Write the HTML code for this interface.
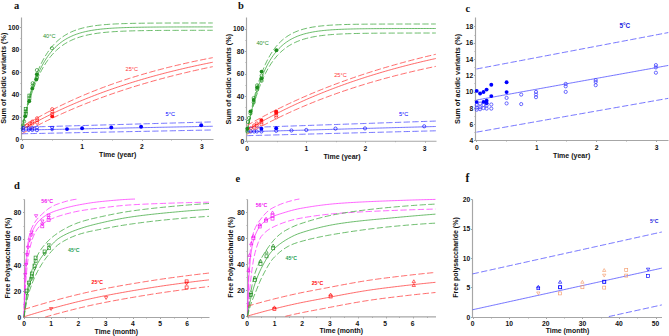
<!DOCTYPE html>
<html><head><meta charset="utf-8"><style>
html,body{margin:0;padding:0;background:#fff;}
svg{display:block;}
text{font-family:"Liberation Sans",sans-serif;}
.tk{font-size:7px;font-weight:bold;fill:#111;}
.lb{font-weight:bold;fill:#111;}
.pl{font-family:"Liberation Serif",serif;font-size:10.5px;font-weight:bold;fill:#111;}
</style></head><body>
<svg width="669" height="336" viewBox="0 0 669 336">
<rect width="669" height="336" fill="#fff"/>
<text x="13.9" y="9" class="pl">a</text>
<path d="M21.5 17.5V139.5H213.5" stroke="#a6a6a6" stroke-width="1.15" fill="none"/>
<path d="M20 139.5h1.5M20 117.5h1.5M20 94.5h1.5M20 72.5h1.5M20 49.5h1.5M20 27.5h1.5M20.5 128.5h1M20.5 106.5h1M20.5 83.5h1M20.5 61.5h1M20.5 38.5h1M22.5 139.5v1.5M82.5 139.5v1.5M142.5 139.5v1.5M201.5 139.5v1.5M52.5 139.5v1M112.5 139.5v1M171.5 139.5v1" stroke="#a6a6a6" stroke-width="1" fill="none"/>
<text transform="translate(19.2,142.15) scale(0.96,1.1)" class="tk" text-anchor="end">0</text>
<text transform="translate(19.2,119.65) scale(0.96,1.1)" class="tk" text-anchor="end">20</text>
<text transform="translate(19.2,97.15) scale(0.96,1.1)" class="tk" text-anchor="end">40</text>
<text transform="translate(19.2,74.65) scale(0.96,1.1)" class="tk" text-anchor="end">60</text>
<text transform="translate(19.2,52.15) scale(0.96,1.1)" class="tk" text-anchor="end">80</text>
<text transform="translate(19.2,29.65) scale(0.96,1.1)" class="tk" text-anchor="end">100</text>
<text transform="translate(22.2,149.15) scale(0.96,1.1)" class="tk" text-anchor="middle">0</text>
<text transform="translate(82.05,149.15) scale(0.96,1.1)" class="tk" text-anchor="middle">1</text>
<text transform="translate(141.9,149.15) scale(0.96,1.1)" class="tk" text-anchor="middle">2</text>
<text transform="translate(201.75,149.15) scale(0.96,1.1)" class="tk" text-anchor="middle">3</text>
<text transform="translate(6.4,78.2) rotate(-90) scale(1,0.92)" class="lb" style="font-size:7.35px" text-anchor="middle">Sum of acidic variants (%)</text>
<text x="99" y="157" class="lb" style="font-size:7.0px">Time (year)</text>
<path d="M21.80 130.40 21.92 129.80 22.16 128.61 22.52 126.86 23.30 123.16 24.79 116.43 24.83 116.27 26.35 109.94 27.86 104.06 29.38 98.60 30.89 93.52 32.41 88.81 33.92 84.42 35.44 80.35 36.95 76.57 38.47 73.05 39.98 69.79 41.50 66.75 43.01 63.93 44.53 61.31 46.04 58.87 47.56 56.61 49.07 54.51 50.59 52.55 52.11 50.74 53.62 49.05 55.14 47.48 56.65 46.02 58.17 44.67 59.68 43.41 61.20 42.24 62.71 41.16 64.23 40.15 65.74 39.21 67.26 38.34 68.77 37.53 70.29 36.78 71.80 36.08 73.32 35.43 74.83 34.82 76.35 34.26 77.86 33.74 79.38 33.26 80.89 32.81 82.41 32.39 83.93 32.00 85.44 31.64 86.96 31.30 88.47 30.99 89.99 30.70 91.50 30.43 93.02 30.18 94.53 29.95 96.05 29.73 97.56 29.53 99.08 29.35 100.59 29.17 102.11 29.01 103.62 28.86 105.14 28.72 106.65 28.60 108.17 28.48 109.68 28.36 111.20 28.26 112.72 28.16 114.23 28.07 115.75 27.99 117.26 27.91 118.78 27.84 120.29 27.78 121.81 27.71 123.32 27.66 124.84 27.60 126.35 27.55 127.87 27.51 129.38 27.46 130.90 27.42 132.41 27.39 133.93 27.35 135.44 27.32 136.96 27.29 138.47 27.26 139.99 27.24 141.50 27.21 143.02 27.19 144.54 27.17 146.05 27.15 147.57 27.13 149.08 27.12 150.60 27.10 152.11 27.09 153.63 27.07 155.14 27.06 156.66 27.05 158.17 27.04 159.69 27.03 161.20 27.02 162.72 27.01 164.23 27.00 165.75 27.00 167.26 26.99 168.78 26.98 170.29 26.98 171.81 26.97 173.33 26.97 174.84 26.96 176.36 26.96 177.87 26.95 179.39 26.95 180.90 26.95 182.42 26.94 183.93 26.94 185.45 26.94 186.96 26.93 188.48 26.93 189.99 26.93 191.51 26.93 193.02 26.93 194.54 26.92 196.05 26.92 197.57 26.92 199.08 26.92 200.60 26.92 202.11 26.92 203.63 26.92 205.15 26.91 206.66 26.91 208.18 26.91 209.69 26.91 211.21 26.91 212.72 26.91" stroke="#3aa53a" stroke-width="0.75" fill="none"/>
<path d="M21.80 130.40 21.92 129.76 22.16 128.48 22.52 126.60 23.30 122.64 24.79 115.43 24.83 115.26 26.35 108.51 27.86 102.25 29.38 96.45 30.89 91.08 32.41 86.10 33.92 81.48 35.44 77.20 36.95 73.23 38.47 69.55 39.98 66.15 41.50 62.99 43.01 60.06 44.53 57.35 46.04 54.83 47.56 52.50 49.07 50.34 50.59 48.34 52.11 46.48 53.62 44.76 55.14 43.17 56.65 41.69 58.17 40.32 59.68 39.05 61.20 37.87 62.71 36.78 64.23 35.77 65.74 34.84 67.26 33.97 68.77 33.16 70.29 32.42 71.80 31.72 73.32 31.08 74.83 30.49 76.35 29.94 77.86 29.43 79.38 28.96 80.89 28.52 82.41 28.11 83.93 27.73 85.44 27.39 86.96 27.06 88.47 26.76 89.99 26.48 91.50 26.23 93.02 25.99 94.53 25.77 96.05 25.56 97.56 25.37 99.08 25.20 100.59 25.03 102.11 24.88 103.62 24.74 105.14 24.61 106.65 24.49 108.17 24.38 109.68 24.27 111.20 24.18 112.72 24.09 114.23 24.01 115.75 23.93 117.26 23.86 118.78 23.79 120.29 23.73 121.81 23.68 123.32 23.62 124.84 23.58 126.35 23.53 127.87 23.49 129.38 23.45 130.90 23.42 132.41 23.38 133.93 23.35 135.44 23.32 136.96 23.30 138.47 23.27 139.99 23.25 141.50 23.23 143.02 23.21 144.54 23.19 146.05 23.17 147.57 23.16 149.08 23.14 150.60 23.13 152.11 23.12 153.63 23.11 155.14 23.10 156.66 23.09 158.17 23.08 159.69 23.07 161.20 23.06 162.72 23.05 164.23 23.05 165.75 23.04 167.26 23.04 168.78 23.03 170.29 23.03 171.81 23.02 173.33 23.02 174.84 23.01 176.36 23.01 177.87 23.01 179.39 23.00 180.90 23.00 182.42 23.00 183.93 22.99 185.45 22.99 186.96 22.99 188.48 22.99 189.99 22.99 191.51 22.98 193.02 22.98 194.54 22.98 196.05 22.98 197.57 22.98 199.08 22.98 200.60 22.98 202.11 22.98 203.63 22.97 205.15 22.97 206.66 22.97 208.18 22.97 209.69 22.97 211.21 22.97 212.72 22.97" stroke="#3aa53a" stroke-width="0.75" fill="none" stroke-dasharray="6.3 2.4"/>
<path d="M21.80 130.40 21.92 129.84 22.16 128.74 22.52 127.11 23.30 123.68 24.79 117.41 24.83 117.25 26.35 111.34 27.86 105.83 29.38 100.70 30.89 95.91 32.41 91.45 33.92 87.29 35.44 83.42 36.95 79.81 38.47 76.44 39.98 73.30 41.50 70.38 43.01 67.65 44.53 65.11 46.04 62.74 47.56 60.54 49.07 58.48 50.59 56.56 52.11 54.78 53.62 53.11 55.14 51.56 56.65 50.11 58.17 48.77 59.68 47.51 61.20 46.34 62.71 45.25 64.23 44.23 65.74 43.28 67.26 42.40 68.77 41.57 70.29 40.80 71.80 40.09 73.32 39.42 74.83 38.80 76.35 38.22 77.86 37.68 79.38 37.18 80.89 36.71 82.41 36.27 83.93 35.86 85.44 35.48 86.96 35.13 88.47 34.80 89.99 34.49 91.50 34.21 93.02 33.94 94.53 33.69 96.05 33.46 97.56 33.24 99.08 33.04 100.59 32.85 102.11 32.68 103.62 32.51 105.14 32.36 106.65 32.22 108.17 32.09 109.68 31.96 111.20 31.85 112.72 31.74 114.23 31.64 115.75 31.55 117.26 31.46 118.78 31.38 120.29 31.31 121.81 31.24 123.32 31.17 124.84 31.11 126.35 31.05 127.87 31.00 129.38 30.95 130.90 30.91 132.41 30.86 133.93 30.82 135.44 30.79 136.96 30.75 138.47 30.72 139.99 30.69 141.50 30.66 143.02 30.63 144.54 30.61 146.05 30.59 147.57 30.57 149.08 30.55 150.60 30.53 152.11 30.51 153.63 30.49 155.14 30.48 156.66 30.47 158.17 30.45 159.69 30.44 161.20 30.43 162.72 30.42 164.23 30.41 165.75 30.40 167.26 30.39 168.78 30.38 170.29 30.38 171.81 30.37 173.33 30.36 174.84 30.36 176.36 30.35 177.87 30.35 179.39 30.34 180.90 30.34 182.42 30.33 183.93 30.33 185.45 30.33 186.96 30.32 188.48 30.32 189.99 30.32 191.51 30.31 193.02 30.31 194.54 30.31 196.05 30.31 197.57 30.30 199.08 30.30 200.60 30.30 202.11 30.30 203.63 30.30 205.15 30.30 206.66 30.29 208.18 30.29 209.69 30.29 211.21 30.29 212.72 30.29" stroke="#3aa53a" stroke-width="0.75" fill="none" stroke-dasharray="6.3 2.4"/>
<path d="M21.80 129.84 21.92 129.77 22.16 129.63 22.52 129.42 23.30 128.98 24.79 128.13 24.83 128.11 26.35 127.25 27.86 126.40 29.38 125.56 30.89 124.73 32.41 123.90 33.92 123.08 35.44 122.27 36.95 121.47 38.47 120.67 39.98 119.88 41.50 119.09 43.01 118.31 44.53 117.54 46.04 116.78 47.56 116.02 49.07 115.26 50.59 114.52 52.11 113.78 53.62 113.04 55.14 112.32 56.65 111.59 58.17 110.88 59.68 110.17 61.20 109.47 62.71 108.77 64.23 108.08 65.74 107.39 67.26 106.71 68.77 106.04 70.29 105.37 71.80 104.71 73.32 104.05 74.83 103.40 76.35 102.75 77.86 102.11 79.38 101.48 80.89 100.85 82.41 100.22 83.93 99.60 85.44 98.99 86.96 98.38 88.47 97.78 89.99 97.18 91.50 96.58 93.02 96.00 94.53 95.41 96.05 94.83 97.56 94.26 99.08 93.69 100.59 93.13 102.11 92.57 103.62 92.01 105.14 91.46 106.65 90.92 108.17 90.38 109.68 89.84 111.20 89.31 112.72 88.78 114.23 88.26 115.75 87.74 117.26 87.23 118.78 86.72 120.29 86.21 121.81 85.71 123.32 85.22 124.84 84.72 126.35 84.23 127.87 83.75 129.38 83.27 130.90 82.79 132.41 82.32 133.93 81.85 135.44 81.39 136.96 80.93 138.47 80.47 139.99 80.02 141.50 79.57 143.02 79.13 144.54 78.69 146.05 78.25 147.57 77.82 149.08 77.39 150.60 76.96 152.11 76.54 153.63 76.12 155.14 75.70 156.66 75.29 158.17 74.88 159.69 74.48 161.20 74.07 162.72 73.68 164.23 73.28 165.75 72.89 167.26 72.50 168.78 72.12 170.29 71.73 171.81 71.35 173.33 70.98 174.84 70.61 176.36 70.24 177.87 69.87 179.39 69.51 180.90 69.15 182.42 68.79 183.93 68.44 185.45 68.09 186.96 67.74 188.48 67.39 189.99 67.05 191.51 66.71 193.02 66.38 194.54 66.04 196.05 65.71 197.57 65.39 199.08 65.06 200.60 64.74 202.11 64.42 203.63 64.10 205.15 63.79 206.66 63.48 208.18 63.17 209.69 62.86 211.21 62.56 212.72 62.26" stroke="#ff3838" stroke-width="0.75" fill="none"/>
<path d="M21.80 127.03 21.92 126.95 22.16 126.80 22.52 126.58 23.30 126.10 24.79 125.19 24.83 125.17 26.35 124.25 27.86 123.34 29.38 122.44 30.89 121.55 32.41 120.67 33.92 119.80 35.44 118.93 36.95 118.07 38.47 117.22 39.98 116.38 41.50 115.55 43.01 114.72 44.53 113.90 46.04 113.09 47.56 112.29 49.07 111.49 50.59 110.70 52.11 109.92 53.62 109.15 55.14 108.38 56.65 107.62 58.17 106.87 59.68 106.12 61.20 105.38 62.71 104.65 64.23 103.93 65.74 103.21 67.26 102.50 68.77 101.79 70.29 101.09 71.80 100.40 73.32 99.72 74.83 99.04 76.35 98.36 77.86 97.70 79.38 97.04 80.89 96.38 82.41 95.74 83.93 95.09 85.44 94.46 86.96 93.83 88.47 93.20 89.99 92.59 91.50 91.97 93.02 91.37 94.53 90.77 96.05 90.17 97.56 89.58 99.08 89.00 100.59 88.42 102.11 87.84 103.62 87.28 105.14 86.71 106.65 86.15 108.17 85.60 109.68 85.05 111.20 84.51 112.72 83.98 114.23 83.44 115.75 82.92 117.26 82.39 118.78 81.88 120.29 81.36 121.81 80.86 123.32 80.35 124.84 79.85 126.35 79.36 127.87 78.87 129.38 78.39 130.90 77.91 132.41 77.43 133.93 76.96 135.44 76.49 136.96 76.03 138.47 75.57 139.99 75.12 141.50 74.67 143.02 74.22 144.54 73.78 146.05 73.35 147.57 72.91 149.08 72.48 150.60 72.06 152.11 71.64 153.63 71.22 155.14 70.81 156.66 70.40 158.17 69.99 159.69 69.59 161.20 69.19 162.72 68.80 164.23 68.41 165.75 68.02 167.26 67.64 168.78 67.26 170.29 66.88 171.81 66.51 173.33 66.14 174.84 65.77 176.36 65.41 177.87 65.05 179.39 64.70 180.90 64.34 182.42 63.99 183.93 63.65 185.45 63.31 186.96 62.97 188.48 62.63 189.99 62.30 191.51 61.97 193.02 61.64 194.54 61.32 196.05 61.00 197.57 60.68 199.08 60.36 200.60 60.05 202.11 59.74 203.63 59.44 205.15 59.13 206.66 58.83 208.18 58.53 209.69 58.24 211.21 57.95 212.72 57.66" stroke="#ff3838" stroke-width="0.75" fill="none" stroke-dasharray="6.3 2.4"/>
<path d="M21.80 133.78 21.92 133.71 22.16 133.58 22.52 133.38 23.30 132.95 24.79 132.13 24.83 132.11 26.35 131.29 27.86 130.47 29.38 129.66 30.89 128.86 32.41 128.06 33.92 127.27 35.44 126.49 36.95 125.71 38.47 124.94 39.98 124.17 41.50 123.41 43.01 122.65 44.53 121.91 46.04 121.16 47.56 120.43 49.07 119.69 50.59 118.97 52.11 118.25 53.62 117.54 55.14 116.83 56.65 116.12 58.17 115.43 59.68 114.73 61.20 114.05 62.71 113.37 64.23 112.69 65.74 112.02 67.26 111.35 68.77 110.69 70.29 110.04 71.80 109.39 73.32 108.74 74.83 108.10 76.35 107.47 77.86 106.84 79.38 106.21 80.89 105.59 82.41 104.98 83.93 104.37 85.44 103.76 86.96 103.16 88.47 102.57 89.99 101.97 91.50 101.39 93.02 100.81 94.53 100.23 96.05 99.65 97.56 99.09 99.08 98.52 100.59 97.96 102.11 97.41 103.62 96.85 105.14 96.31 106.65 95.77 108.17 95.23 109.68 94.69 111.20 94.16 112.72 93.64 114.23 93.11 115.75 92.60 117.26 92.08 118.78 91.57 120.29 91.07 121.81 90.57 123.32 90.07 124.84 89.58 126.35 89.09 127.87 88.60 129.38 88.12 130.90 87.64 132.41 87.16 133.93 86.69 135.44 86.22 136.96 85.76 138.47 85.30 139.99 84.84 141.50 84.39 143.02 83.94 144.54 83.50 146.05 83.05 147.57 82.61 149.08 82.18 150.60 81.75 152.11 81.32 153.63 80.89 155.14 80.47 156.66 80.05 158.17 79.64 159.69 79.22 161.20 78.81 162.72 78.41 164.23 78.01 165.75 77.61 167.26 77.21 168.78 76.82 170.29 76.43 171.81 76.04 173.33 75.66 174.84 75.27 176.36 74.90 177.87 74.52 179.39 74.15 180.90 73.78 182.42 73.41 183.93 73.05 185.45 72.69 186.96 72.33 188.48 71.98 189.99 71.62 191.51 71.27 193.02 70.93 194.54 70.58 196.05 70.24 197.57 69.90 199.08 69.57 200.60 69.23 202.11 68.90 203.63 68.57 205.15 68.25 206.66 67.92 208.18 67.60 209.69 67.28 211.21 66.97 212.72 66.66" stroke="#ff3838" stroke-width="0.75" fill="none" stroke-dasharray="6.3 2.4"/>
<path d="M21.80 130.06 21.92 130.06 22.16 130.06 22.52 130.05 23.30 130.03 24.79 130.00 24.83 130.00 26.35 129.97 27.86 129.94 29.38 129.91 30.89 129.88 32.41 129.85 33.92 129.82 35.44 129.79 36.95 129.76 38.47 129.73 39.98 129.70 41.50 129.67 43.01 129.64 44.53 129.61 46.04 129.58 47.56 129.55 49.07 129.52 50.59 129.49 52.11 129.46 53.62 129.43 55.14 129.40 56.65 129.37 58.17 129.34 59.68 129.31 61.20 129.28 62.71 129.25 64.23 129.22 65.74 129.19 67.26 129.16 68.77 129.13 70.29 129.10 71.80 129.07 73.32 129.04 74.83 129.01 76.35 128.98 77.86 128.95 79.38 128.92 80.89 128.89 82.41 128.85 83.93 128.82 85.44 128.79 86.96 128.76 88.47 128.73 89.99 128.70 91.50 128.67 93.02 128.64 94.53 128.61 96.05 128.58 97.56 128.55 99.08 128.52 100.59 128.49 102.11 128.46 103.62 128.43 105.14 128.40 106.65 128.37 108.17 128.34 109.68 128.31 111.20 128.28 112.72 128.25 114.23 128.22 115.75 128.19 117.26 128.16 118.78 128.13 120.29 128.10 121.81 128.07 123.32 128.04 124.84 128.01 126.35 127.98 127.87 127.95 129.38 127.92 130.90 127.89 132.41 127.86 133.93 127.83 135.44 127.80 136.96 127.77 138.47 127.74 139.99 127.71 141.50 127.68 143.02 127.65 144.54 127.62 146.05 127.59 147.57 127.56 149.08 127.53 150.60 127.50 152.11 127.47 153.63 127.44 155.14 127.41 156.66 127.38 158.17 127.35 159.69 127.32 161.20 127.28 162.72 127.25 164.23 127.22 165.75 127.19 167.26 127.16 168.78 127.13 170.29 127.10 171.81 127.07 173.33 127.04 174.84 127.01 176.36 126.98 177.87 126.95 179.39 126.92 180.90 126.89 182.42 126.86 183.93 126.83 185.45 126.80 186.96 126.77 188.48 126.74 189.99 126.71 191.51 126.68 193.02 126.65 194.54 126.62 196.05 126.59 197.57 126.56 199.08 126.53 200.60 126.50 202.11 126.47 203.63 126.44 205.15 126.41 206.66 126.38 208.18 126.35 209.69 126.32 211.21 126.29 212.72 126.26" stroke="#4646ff" stroke-width="0.75" fill="none"/>
<path d="M21.80 127.25 21.92 127.25 22.16 127.24 22.52 127.23 23.30 127.21 24.79 127.17 24.83 127.17 26.35 127.12 27.86 127.08 29.38 127.04 30.89 127.00 32.41 126.95 33.92 126.91 35.44 126.87 36.95 126.83 38.47 126.78 39.98 126.74 41.50 126.70 43.01 126.66 44.53 126.61 46.04 126.57 47.56 126.53 49.07 126.49 50.59 126.44 52.11 126.40 53.62 126.36 55.14 126.32 56.65 126.27 58.17 126.23 59.68 126.19 61.20 126.15 62.71 126.10 64.23 126.06 65.74 126.02 67.26 125.98 68.77 125.93 70.29 125.89 71.80 125.85 73.32 125.81 74.83 125.76 76.35 125.72 77.86 125.68 79.38 125.64 80.89 125.59 82.41 125.55 83.93 125.51 85.44 125.47 86.96 125.43 88.47 125.38 89.99 125.34 91.50 125.30 93.02 125.26 94.53 125.21 96.05 125.17 97.56 125.13 99.08 125.09 100.59 125.04 102.11 125.00 103.62 124.96 105.14 124.92 106.65 124.87 108.17 124.83 109.68 124.79 111.20 124.75 112.72 124.70 114.23 124.66 115.75 124.62 117.26 124.58 118.78 124.53 120.29 124.49 121.81 124.45 123.32 124.41 124.84 124.36 126.35 124.32 127.87 124.28 129.38 124.24 130.90 124.19 132.41 124.15 133.93 124.11 135.44 124.07 136.96 124.02 138.47 123.98 139.99 123.94 141.50 123.90 143.02 123.85 144.54 123.81 146.05 123.77 147.57 123.73 149.08 123.69 150.60 123.64 152.11 123.60 153.63 123.56 155.14 123.52 156.66 123.47 158.17 123.43 159.69 123.39 161.20 123.35 162.72 123.30 164.23 123.26 165.75 123.22 167.26 123.18 168.78 123.13 170.29 123.09 171.81 123.05 173.33 123.01 174.84 122.96 176.36 122.92 177.87 122.88 179.39 122.84 180.90 122.79 182.42 122.75 183.93 122.71 185.45 122.67 186.96 122.62 188.48 122.58 189.99 122.54 191.51 122.50 193.02 122.45 194.54 122.41 196.05 122.37 197.57 122.33 199.08 122.28 200.60 122.24 202.11 122.20 203.63 122.16 205.15 122.11 206.66 122.07 208.18 122.03 209.69 121.99 211.21 121.95 212.72 121.90" stroke="#4646ff" stroke-width="0.75" fill="none" stroke-dasharray="6.3 2.4"/>
<path d="M21.80 133.78 21.92 133.77 22.16 133.77 22.52 133.76 23.30 133.75 24.79 133.72 24.83 133.71 26.35 133.68 27.86 133.65 29.38 133.62 30.89 133.59 32.41 133.56 33.92 133.53 35.44 133.50 36.95 133.47 38.47 133.44 39.98 133.41 41.50 133.38 43.01 133.35 44.53 133.32 46.04 133.29 47.56 133.26 49.07 133.23 50.59 133.20 52.11 133.17 53.62 133.14 55.14 133.11 56.65 133.08 58.17 133.05 59.68 133.02 61.20 132.99 62.71 132.96 64.23 132.93 65.74 132.90 67.26 132.87 68.77 132.84 70.29 132.81 71.80 132.78 73.32 132.75 74.83 132.72 76.35 132.69 77.86 132.66 79.38 132.63 80.89 132.60 82.41 132.57 83.93 132.54 85.44 132.51 86.96 132.48 88.47 132.45 89.99 132.42 91.50 132.39 93.02 132.36 94.53 132.33 96.05 132.30 97.56 132.27 99.08 132.24 100.59 132.21 102.11 132.17 103.62 132.14 105.14 132.11 106.65 132.08 108.17 132.05 109.68 132.02 111.20 131.99 112.72 131.96 114.23 131.93 115.75 131.90 117.26 131.87 118.78 131.84 120.29 131.81 121.81 131.78 123.32 131.75 124.84 131.72 126.35 131.69 127.87 131.66 129.38 131.63 130.90 131.60 132.41 131.57 133.93 131.54 135.44 131.51 136.96 131.48 138.47 131.45 139.99 131.42 141.50 131.39 143.02 131.36 144.54 131.33 146.05 131.30 147.57 131.27 149.08 131.24 150.60 131.21 152.11 131.18 153.63 131.15 155.14 131.12 156.66 131.09 158.17 131.06 159.69 131.03 161.20 131.00 162.72 130.97 164.23 130.94 165.75 130.91 167.26 130.88 168.78 130.85 170.29 130.82 171.81 130.79 173.33 130.76 174.84 130.73 176.36 130.70 177.87 130.67 179.39 130.64 180.90 130.60 182.42 130.57 183.93 130.54 185.45 130.51 186.96 130.48 188.48 130.45 189.99 130.42 191.51 130.39 193.02 130.36 194.54 130.33 196.05 130.30 197.57 130.27 199.08 130.24 200.60 130.21 202.11 130.18 203.63 130.15 205.15 130.12 206.66 130.09 208.18 130.06 209.69 130.03 211.21 130.00 212.72 129.97" stroke="#4646ff" stroke-width="0.75" fill="none" stroke-dasharray="6.3 2.4"/>
<circle cx="51.9" cy="48.2" r="1.6" fill="none" stroke="#1e8c1e" stroke-width="0.65"/>
<circle cx="36.9" cy="70.1" r="1.6" fill="none" stroke="#1e8c1e" stroke-width="0.65"/>
<circle cx="36.9" cy="74.3" r="1.9500000000000002" fill="#1e8c1e"/>
<circle cx="36.9" cy="77.9" r="1.6" fill="none" stroke="#1e8c1e" stroke-width="0.65"/>
<circle cx="36.3" cy="79.6" r="1.9500000000000002" fill="#1e8c1e"/>
<circle cx="32.7" cy="83.2" r="1.6" fill="none" stroke="#1e8c1e" stroke-width="0.65"/>
<circle cx="32.7" cy="85.6" r="1.6" fill="none" stroke="#1e8c1e" stroke-width="0.65"/>
<circle cx="32.3" cy="88.6" r="1.9500000000000002" fill="#1e8c1e"/>
<circle cx="29.2" cy="101.3" r="1.9500000000000002" fill="#1e8c1e"/>
<circle cx="25.2" cy="116.3" r="1.9500000000000002" fill="#1e8c1e"/>
<circle cx="24.1" cy="121.4" r="1.6" fill="none" stroke="#1e8c1e" stroke-width="0.65"/>
<circle cx="23" cy="125.3" r="1.6" fill="none" stroke="#1e8c1e" stroke-width="0.65"/>
<rect x="27.9" y="94.1" width="3" height="3" fill="none" stroke="#1e8c1e" stroke-width="0.65"/>
<rect x="27.9" y="96.9" width="3" height="3" fill="none" stroke="#1e8c1e" stroke-width="0.65"/>
<rect x="24.2" y="107.5" width="3" height="3" fill="none" stroke="#1e8c1e" stroke-width="0.65"/>
<rect x="24.2" y="110" width="3" height="3" fill="none" stroke="#1e8c1e" stroke-width="0.65"/>
<rect x="24.2" y="112.5" width="3" height="3" fill="none" stroke="#1e8c1e" stroke-width="0.65"/>
<circle cx="52.2" cy="109.2" r="1.6" fill="none" stroke="#ff1010" stroke-width="0.65"/>
<circle cx="52.2" cy="111.6" r="1.6" fill="none" stroke="#ff1010" stroke-width="0.65"/>
<circle cx="52.2" cy="114" r="1.6" fill="none" stroke="#ff1010" stroke-width="0.65"/>
<circle cx="52.2" cy="116.4" r="1.9500000000000002" fill="#ff1010"/>
<circle cx="37.1" cy="118.3" r="1.6" fill="none" stroke="#ff1010" stroke-width="0.65"/>
<circle cx="37.1" cy="120.2" r="1.6" fill="none" stroke="#ff1010" stroke-width="0.65"/>
<circle cx="37.1" cy="122.6" r="1.6" fill="none" stroke="#ff1010" stroke-width="0.65"/>
<circle cx="32.4" cy="121.6" r="1.6" fill="none" stroke="#ff1010" stroke-width="0.65"/>
<circle cx="32.4" cy="123.5" r="1.6" fill="none" stroke="#ff1010" stroke-width="0.65"/>
<circle cx="29.5" cy="123.5" r="1.6" fill="none" stroke="#ff1010" stroke-width="0.65"/>
<circle cx="29.5" cy="125.4" r="1.6" fill="none" stroke="#ff1010" stroke-width="0.65"/>
<circle cx="27.1" cy="125.4" r="1.6" fill="none" stroke="#ff1010" stroke-width="0.65"/>
<circle cx="23.3" cy="127.9" r="1.6" fill="none" stroke="#0000ff" stroke-width="0.65"/>
<circle cx="23.3" cy="130.1" r="1.6" fill="none" stroke="#0000ff" stroke-width="0.65"/>
<circle cx="28.7" cy="128.3" r="1.6" fill="none" stroke="#0000ff" stroke-width="0.65"/>
<circle cx="28.7" cy="129.9" r="1.6" fill="none" stroke="#0000ff" stroke-width="0.65"/>
<circle cx="32.3" cy="128.3" r="1.6" fill="none" stroke="#0000ff" stroke-width="0.65"/>
<circle cx="32.3" cy="129.9" r="1.6" fill="none" stroke="#0000ff" stroke-width="0.65"/>
<circle cx="36.9" cy="127.6" r="1.6" fill="none" stroke="#0000ff" stroke-width="0.65"/>
<circle cx="36.9" cy="130.2" r="1.6" fill="none" stroke="#0000ff" stroke-width="0.65"/>
<path d="M52.1 130L54.05 126.6L50.15 126.6Z" fill="none" stroke="#0000ff" stroke-width="0.65"/>
<circle cx="52.1" cy="129.5" r="1.35" fill="none" stroke="#0000ff" stroke-width="0.65"/>
<circle cx="67" cy="129.1" r="1.9500000000000002" fill="#0000ff"/>
<circle cx="82.1" cy="128.2" r="1.9500000000000002" fill="#0000ff"/>
<circle cx="111.3" cy="127.5" r="1.9500000000000002" fill="#0000ff"/>
<circle cx="141.1" cy="126.8" r="1.9500000000000002" fill="#0000ff"/>
<circle cx="201.2" cy="125.2" r="1.9500000000000002" fill="#0000ff"/>
<text x="43" y="38.2" fill="#2a8f2a" style="font-size:5.6px;font-weight:normal">40°C</text>
<text x="125.6" y="70.8" fill="#ff3838" style="font-size:5.6px;font-weight:normal">25°C</text>
<text x="165.6" y="115.5" fill="#0000ff" style="font-size:5.6px;font-weight:normal">5°C</text>
<text x="238" y="9.2" class="pl">b</text>
<path d="M246.5 17.5V141.2H436.5" stroke="#a6a6a6" stroke-width="1.15" fill="none"/>
<path d="M245 141.5h1.5M245 119.5h1.5M245 96.5h1.5M245 74.5h1.5M245 51.5h1.5M245 29.5h1.5M245.5 130.5h1M245.5 107.5h1M245.5 85.5h1M245.5 62.5h1M245.5 40.5h1M247.5 141.2v1.5M306.5 141.2v1.5M365.5 141.2v1.5M425.5 141.2v1.5M277.5 141.2v1M336.5 141.2v1M395.5 141.2v1" stroke="#a6a6a6" stroke-width="1" fill="none"/>
<text transform="translate(244.2,144.05) scale(0.96,1.1)" class="tk" text-anchor="end">0</text>
<text transform="translate(244.2,121.49) scale(0.96,1.1)" class="tk" text-anchor="end">20</text>
<text transform="translate(244.2,98.93) scale(0.96,1.1)" class="tk" text-anchor="end">40</text>
<text transform="translate(244.2,76.37) scale(0.96,1.1)" class="tk" text-anchor="end">60</text>
<text transform="translate(244.2,53.81) scale(0.96,1.1)" class="tk" text-anchor="end">80</text>
<text transform="translate(244.2,31.25) scale(0.96,1.1)" class="tk" text-anchor="end">100</text>
<text transform="translate(247.1,150.95) scale(0.96,1.1)" class="tk" text-anchor="middle">0</text>
<text transform="translate(306.25,150.95) scale(0.96,1.1)" class="tk" text-anchor="middle">1</text>
<text transform="translate(365.4,150.95) scale(0.96,1.1)" class="tk" text-anchor="middle">2</text>
<text transform="translate(424.55,150.95) scale(0.96,1.1)" class="tk" text-anchor="middle">3</text>
<text transform="translate(230.9,79.25) rotate(-90) scale(1,0.92)" class="lb" style="font-size:7.3px" text-anchor="middle">Sum of acidic variants (%)</text>
<text x="323.4" y="158.8" class="lb" style="font-size:7.0px">Time (year)</text>
<path d="M247.10 132.28 247.22 131.64 247.45 130.39 247.81 128.55 248.58 124.66 250.06 117.60 250.14 117.20 251.67 110.51 253.19 104.32 254.71 98.60 256.23 93.31 257.75 88.42 259.27 83.90 260.80 79.72 262.32 75.85 263.84 72.28 265.36 68.97 266.88 65.92 268.40 63.10 269.93 60.49 271.45 58.07 272.97 55.84 274.49 53.78 276.01 51.87 277.53 50.11 279.06 48.48 280.58 46.97 282.10 45.57 283.62 44.29 285.14 43.09 286.66 41.99 288.19 40.97 289.71 40.03 291.23 39.16 292.75 38.36 294.27 37.61 295.79 36.93 297.32 36.29 298.84 35.70 300.36 35.16 301.88 34.66 303.40 34.19 304.92 33.76 306.45 33.37 307.97 33.00 309.49 32.66 311.01 32.34 312.53 32.05 314.05 31.79 315.58 31.54 317.10 31.31 318.62 31.10 320.14 30.90 321.66 30.72 323.18 30.55 324.71 30.40 326.23 30.25 327.75 30.12 329.27 30.00 330.79 29.89 332.31 29.78 333.84 29.69 335.36 29.60 336.88 29.51 338.40 29.44 339.92 29.37 341.44 29.30 342.97 29.24 344.49 29.18 346.01 29.13 347.53 29.08 349.05 29.04 350.57 29.00 352.10 28.96 353.62 28.93 355.14 28.90 356.66 28.87 358.18 28.84 359.70 28.81 361.23 28.79 362.75 28.77 364.27 28.75 365.79 28.73 367.31 28.71 368.83 28.69 370.36 28.68 371.88 28.67 373.40 28.65 374.92 28.64 376.44 28.63 377.96 28.62 379.49 28.61 381.01 28.60 382.53 28.60 384.05 28.59 385.57 28.58 387.09 28.58 388.62 28.57 390.14 28.57 391.66 28.56 393.18 28.56 394.70 28.55 396.22 28.55 397.75 28.54 399.27 28.54 400.79 28.54 402.31 28.53 403.83 28.53 405.35 28.53 406.88 28.53 408.40 28.53 409.92 28.52 411.44 28.52 412.96 28.52 414.48 28.52 416.01 28.52 417.53 28.52 419.05 28.51 420.57 28.51 422.09 28.51 423.62 28.51 425.14 28.51 426.66 28.51 428.18 28.51 429.70 28.51 431.22 28.51 432.75 28.51 434.27 28.51 435.79 28.51" stroke="#3aa53a" stroke-width="0.75" fill="none"/>
<path d="M247.10 132.28 247.22 131.59 247.45 130.22 247.81 128.20 248.58 123.95 250.06 116.26 250.14 115.84 251.67 108.58 253.19 101.89 254.71 95.74 256.23 90.07 257.75 84.85 259.27 80.04 260.80 75.61 262.32 71.53 263.84 67.77 265.36 64.31 266.88 61.12 268.40 58.19 269.93 55.49 271.45 53.00 272.97 50.71 274.49 48.59 276.01 46.65 277.53 44.86 279.06 43.21 280.58 41.69 282.10 40.29 283.62 39.00 285.14 37.82 286.66 36.72 288.19 35.72 289.71 34.79 291.23 33.94 292.75 33.15 294.27 32.43 295.79 31.76 297.32 31.15 298.84 30.58 300.36 30.06 301.88 29.58 303.40 29.14 304.92 28.73 306.45 28.36 307.97 28.01 309.49 27.69 311.01 27.40 312.53 27.13 314.05 26.88 315.58 26.65 317.10 26.44 318.62 26.25 320.14 26.07 321.66 25.91 323.18 25.75 324.71 25.61 326.23 25.49 327.75 25.37 329.27 25.26 330.79 25.16 332.31 25.07 333.84 24.98 335.36 24.90 336.88 24.83 338.40 24.76 339.92 24.70 341.44 24.65 342.97 24.59 344.49 24.55 346.01 24.50 347.53 24.46 349.05 24.42 350.57 24.39 352.10 24.36 353.62 24.33 355.14 24.30 356.66 24.28 358.18 24.25 359.70 24.23 361.23 24.21 362.75 24.20 364.27 24.18 365.79 24.16 367.31 24.15 368.83 24.14 370.36 24.13 371.88 24.11 373.40 24.10 374.92 24.10 376.44 24.09 377.96 24.08 379.49 24.07 381.01 24.07 382.53 24.06 384.05 24.05 385.57 24.05 387.09 24.04 388.62 24.04 390.14 24.04 391.66 24.03 393.18 24.03 394.70 24.02 396.22 24.02 397.75 24.02 399.27 24.02 400.79 24.01 402.31 24.01 403.83 24.01 405.35 24.01 406.88 24.01 408.40 24.01 409.92 24.00 411.44 24.00 412.96 24.00 414.48 24.00 416.01 24.00 417.53 24.00 419.05 24.00 420.57 24.00 422.09 24.00 423.62 24.00 425.14 24.00 426.66 23.99 428.18 23.99 429.70 23.99 431.22 23.99 432.75 23.99 434.27 23.99 435.79 23.99" stroke="#3aa53a" stroke-width="0.75" fill="none" stroke-dasharray="6.3 2.4"/>
<path d="M247.10 132.28 247.22 131.70 247.45 130.56 247.81 128.88 248.58 125.33 250.06 118.88 250.14 118.52 251.67 112.37 253.19 106.66 254.71 101.37 256.23 96.46 257.75 91.89 259.27 87.66 260.80 83.73 262.32 80.09 263.84 76.70 265.36 73.56 266.88 70.65 268.40 67.94 269.93 65.43 271.45 63.10 272.97 60.94 274.49 58.93 276.01 57.07 277.53 55.34 279.06 53.73 280.58 52.24 282.10 50.86 283.62 49.58 285.14 48.39 286.66 47.28 288.19 46.25 289.71 45.30 291.23 44.42 292.75 43.60 294.27 42.84 295.79 42.13 297.32 41.48 298.84 40.87 300.36 40.30 301.88 39.78 303.40 39.29 304.92 38.84 306.45 38.42 307.97 38.03 309.49 37.67 311.01 37.34 312.53 37.03 314.05 36.74 315.58 36.47 317.10 36.22 318.62 35.99 320.14 35.78 321.66 35.58 323.18 35.39 324.71 35.22 326.23 35.06 327.75 34.92 329.27 34.78 330.79 34.65 332.31 34.53 333.84 34.42 335.36 34.32 336.88 34.23 338.40 34.14 339.92 34.06 341.44 33.98 342.97 33.91 344.49 33.85 346.01 33.79 347.53 33.73 349.05 33.68 350.57 33.63 352.10 33.59 353.62 33.55 355.14 33.51 356.66 33.47 358.18 33.44 359.70 33.41 361.23 33.38 362.75 33.35 364.27 33.33 365.79 33.31 367.31 33.29 368.83 33.27 370.36 33.25 371.88 33.23 373.40 33.22 374.92 33.20 376.44 33.19 377.96 33.17 379.49 33.16 381.01 33.15 382.53 33.14 384.05 33.13 385.57 33.12 387.09 33.12 388.62 33.11 390.14 33.10 391.66 33.09 393.18 33.09 394.70 33.08 396.22 33.08 397.75 33.07 399.27 33.07 400.79 33.07 402.31 33.06 403.83 33.06 405.35 33.05 406.88 33.05 408.40 33.05 409.92 33.05 411.44 33.04 412.96 33.04 414.48 33.04 416.01 33.04 417.53 33.04 419.05 33.03 420.57 33.03 422.09 33.03 423.62 33.03 425.14 33.03 426.66 33.03 428.18 33.03 429.70 33.02 431.22 33.02 432.75 33.02 434.27 33.02 435.79 33.02" stroke="#3aa53a" stroke-width="0.75" fill="none" stroke-dasharray="6.3 2.4"/>
<path d="M247.10 130.02 247.22 129.95 247.45 129.81 247.81 129.59 248.58 129.14 250.06 128.26 250.14 128.21 251.67 127.31 253.19 126.42 254.71 125.54 256.23 124.67 257.75 123.80 259.27 122.94 260.80 122.09 262.32 121.24 263.84 120.40 265.36 119.57 266.88 118.74 268.40 117.92 269.93 117.11 271.45 116.30 272.97 115.50 274.49 114.71 276.01 113.92 277.53 113.14 279.06 112.37 280.58 111.60 282.10 110.84 283.62 110.08 285.14 109.33 286.66 108.59 288.19 107.85 289.71 107.12 291.23 106.40 292.75 105.68 294.27 104.96 295.79 104.25 297.32 103.55 298.84 102.85 300.36 102.16 301.88 101.48 303.40 100.80 304.92 100.12 306.45 99.45 307.97 98.79 309.49 98.13 311.01 97.48 312.53 96.83 314.05 96.19 315.58 95.55 317.10 94.92 318.62 94.29 320.14 93.67 321.66 93.05 323.18 92.44 324.71 91.83 326.23 91.23 327.75 90.63 329.27 90.04 330.79 89.45 332.31 88.87 333.84 88.29 335.36 87.72 336.88 87.15 338.40 86.59 339.92 86.03 341.44 85.47 342.97 84.92 344.49 84.37 346.01 83.83 347.53 83.29 349.05 82.76 350.57 82.23 352.10 81.71 353.62 81.19 355.14 80.67 356.66 80.16 358.18 79.65 359.70 79.15 361.23 78.65 362.75 78.15 364.27 77.66 365.79 77.17 367.31 76.69 368.83 76.21 370.36 75.73 371.88 75.26 373.40 74.79 374.92 74.33 376.44 73.87 377.96 73.41 379.49 72.95 381.01 72.50 382.53 72.06 384.05 71.62 385.57 71.18 387.09 70.74 388.62 70.31 390.14 69.88 391.66 69.46 393.18 69.03 394.70 68.62 396.22 68.20 397.75 67.79 399.27 67.38 400.79 66.98 402.31 66.58 403.83 66.18 405.35 65.78 406.88 65.39 408.40 65.00 409.92 64.62 411.44 64.23 412.96 63.85 414.48 63.48 416.01 63.10 417.53 62.73 419.05 62.37 420.57 62.00 422.09 61.64 423.62 61.28 425.14 60.93 426.66 60.57 428.18 60.22 429.70 59.88 431.22 59.53 432.75 59.19 434.27 58.85 435.79 58.52" stroke="#ff3838" stroke-width="0.75" fill="none"/>
<path d="M247.10 125.40 247.22 125.33 247.45 125.19 247.81 124.99 248.58 124.55 250.06 123.71 250.14 123.66 251.67 122.81 253.19 121.96 254.71 121.12 256.23 120.28 257.75 119.45 259.27 118.62 260.80 117.80 262.32 116.99 263.84 116.18 265.36 115.38 266.88 114.59 268.40 113.80 269.93 113.01 271.45 112.23 272.97 111.46 274.49 110.69 276.01 109.93 277.53 109.18 279.06 108.43 280.58 107.68 282.10 106.94 283.62 106.21 285.14 105.48 286.66 104.76 288.19 104.04 289.71 103.32 291.23 102.62 292.75 101.91 294.27 101.22 295.79 100.52 297.32 99.84 298.84 99.15 300.36 98.48 301.88 97.80 303.40 97.13 304.92 96.47 306.45 95.81 307.97 95.16 309.49 94.51 311.01 93.87 312.53 93.23 314.05 92.59 315.58 91.96 317.10 91.34 318.62 90.72 320.14 90.10 321.66 89.49 323.18 88.88 324.71 88.28 326.23 87.68 327.75 87.09 329.27 86.50 330.79 85.91 332.31 85.33 333.84 84.75 335.36 84.18 336.88 83.61 338.40 83.05 339.92 82.49 341.44 81.93 342.97 81.38 344.49 80.83 346.01 80.28 347.53 79.74 349.05 79.21 350.57 78.68 352.10 78.15 353.62 77.62 355.14 77.10 356.66 76.58 358.18 76.07 359.70 75.56 361.23 75.05 362.75 74.55 364.27 74.05 365.79 73.56 367.31 73.07 368.83 72.58 370.36 72.09 371.88 71.61 373.40 71.14 374.92 70.66 376.44 70.19 377.96 69.72 379.49 69.26 381.01 68.80 382.53 68.34 384.05 67.89 385.57 67.44 387.09 66.99 388.62 66.55 390.14 66.11 391.66 65.67 393.18 65.24 394.70 64.80 396.22 64.38 397.75 63.95 399.27 63.53 400.79 63.11 402.31 62.70 403.83 62.28 405.35 61.87 406.88 61.47 408.40 61.06 409.92 60.66 411.44 60.27 412.96 59.87 414.48 59.48 416.01 59.09 417.53 58.70 419.05 58.32 420.57 57.94 422.09 57.56 423.62 57.19 425.14 56.81 426.66 56.44 428.18 56.08 429.70 55.71 431.22 55.35 432.75 54.99 434.27 54.63 435.79 54.28" stroke="#ff3838" stroke-width="0.75" fill="none" stroke-dasharray="6.3 2.4"/>
<path d="M247.10 134.31 247.22 134.24 247.45 134.10 247.81 133.90 248.58 133.46 250.06 132.62 250.14 132.57 251.67 131.71 253.19 130.86 254.71 130.01 256.23 129.18 257.75 128.35 259.27 127.52 260.80 126.71 262.32 125.89 263.84 125.09 265.36 124.29 266.88 123.50 268.40 122.72 269.93 121.94 271.45 121.17 272.97 120.41 274.49 119.65 276.01 118.90 277.53 118.15 279.06 117.41 280.58 116.68 282.10 115.95 283.62 115.23 285.14 114.51 286.66 113.81 288.19 113.10 289.71 112.40 291.23 111.71 292.75 111.02 294.27 110.34 295.79 109.67 297.32 109.00 298.84 108.34 300.36 107.68 301.88 107.02 303.40 106.38 304.92 105.73 306.45 105.10 307.97 104.46 309.49 103.84 311.01 103.22 312.53 102.60 314.05 101.99 315.58 101.38 317.10 100.78 318.62 100.18 320.14 99.59 321.66 99.01 323.18 98.43 324.71 97.85 326.23 97.28 327.75 96.71 329.27 96.15 330.79 95.59 332.31 95.03 333.84 94.49 335.36 93.94 336.88 93.40 338.40 92.87 339.92 92.34 341.44 91.81 342.97 91.29 344.49 90.77 346.01 90.25 347.53 89.75 349.05 89.24 350.57 88.74 352.10 88.24 353.62 87.75 355.14 87.26 356.66 86.78 358.18 86.29 359.70 85.82 361.23 85.35 362.75 84.88 364.27 84.41 365.79 83.95 367.31 83.49 368.83 83.04 370.36 82.59 371.88 82.14 373.40 81.70 374.92 81.26 376.44 80.83 377.96 80.39 379.49 79.97 381.01 79.54 382.53 79.12 384.05 78.70 385.57 78.29 387.09 77.88 388.62 77.47 390.14 77.07 391.66 76.67 393.18 76.27 394.70 75.87 396.22 75.48 397.75 75.10 399.27 74.71 400.79 74.33 402.31 73.95 403.83 73.58 405.35 73.21 406.88 72.84 408.40 72.47 409.92 72.11 411.44 71.75 412.96 71.39 414.48 71.04 416.01 70.69 417.53 70.34 419.05 69.99 420.57 69.65 422.09 69.31 423.62 68.98 425.14 68.64 426.66 68.31 428.18 67.98 429.70 67.66 431.22 67.33 432.75 67.01 434.27 66.70 435.79 66.38" stroke="#ff3838" stroke-width="0.75" fill="none" stroke-dasharray="6.3 2.4"/>
<path d="M247.10 131.71 247.22 131.71 247.45 131.70 247.81 131.69 248.58 131.67 250.06 131.63 250.14 131.63 251.67 131.59 253.19 131.54 254.71 131.50 256.23 131.46 257.75 131.42 259.27 131.38 260.80 131.33 262.32 131.29 263.84 131.25 265.36 131.21 266.88 131.16 268.40 131.12 269.93 131.08 271.45 131.04 272.97 131.00 274.49 130.95 276.01 130.91 277.53 130.87 279.06 130.83 280.58 130.79 282.10 130.74 283.62 130.70 285.14 130.66 286.66 130.62 288.19 130.58 289.71 130.53 291.23 130.49 292.75 130.45 294.27 130.41 295.79 130.37 297.32 130.32 298.84 130.28 300.36 130.24 301.88 130.20 303.40 130.16 304.92 130.11 306.45 130.07 307.97 130.03 309.49 129.99 311.01 129.94 312.53 129.90 314.05 129.86 315.58 129.82 317.10 129.78 318.62 129.73 320.14 129.69 321.66 129.65 323.18 129.61 324.71 129.57 326.23 129.52 327.75 129.48 329.27 129.44 330.79 129.40 332.31 129.36 333.84 129.31 335.36 129.27 336.88 129.23 338.40 129.19 339.92 129.15 341.44 129.10 342.97 129.06 344.49 129.02 346.01 128.98 347.53 128.93 349.05 128.89 350.57 128.85 352.10 128.81 353.62 128.77 355.14 128.72 356.66 128.68 358.18 128.64 359.70 128.60 361.23 128.56 362.75 128.51 364.27 128.47 365.79 128.43 367.31 128.39 368.83 128.35 370.36 128.30 371.88 128.26 373.40 128.22 374.92 128.18 376.44 128.14 377.96 128.09 379.49 128.05 381.01 128.01 382.53 127.97 384.05 127.93 385.57 127.88 387.09 127.84 388.62 127.80 390.14 127.76 391.66 127.71 393.18 127.67 394.70 127.63 396.22 127.59 397.75 127.55 399.27 127.50 400.79 127.46 402.31 127.42 403.83 127.38 405.35 127.34 406.88 127.29 408.40 127.25 409.92 127.21 411.44 127.17 412.96 127.13 414.48 127.08 416.01 127.04 417.53 127.00 419.05 126.96 420.57 126.92 422.09 126.87 423.62 126.83 425.14 126.79 426.66 126.75 428.18 126.70 429.70 126.66 431.22 126.62 432.75 126.58 434.27 126.54 435.79 126.49" stroke="#4646ff" stroke-width="0.75" fill="none"/>
<path d="M247.10 127.54 247.22 127.53 247.45 127.53 247.81 127.51 248.58 127.49 250.06 127.44 250.14 127.43 251.67 127.38 253.19 127.33 254.71 127.28 256.23 127.22 257.75 127.17 259.27 127.12 260.80 127.07 262.32 127.02 263.84 126.96 265.36 126.91 266.88 126.86 268.40 126.81 269.93 126.75 271.45 126.70 272.97 126.65 274.49 126.60 276.01 126.55 277.53 126.49 279.06 126.44 280.58 126.39 282.10 126.34 283.62 126.28 285.14 126.23 286.66 126.18 288.19 126.13 289.71 126.08 291.23 126.02 292.75 125.97 294.27 125.92 295.79 125.87 297.32 125.81 298.84 125.76 300.36 125.71 301.88 125.66 303.40 125.61 304.92 125.55 306.45 125.50 307.97 125.45 309.49 125.40 311.01 125.34 312.53 125.29 314.05 125.24 315.58 125.19 317.10 125.14 318.62 125.08 320.14 125.03 321.66 124.98 323.18 124.93 324.71 124.87 326.23 124.82 327.75 124.77 329.27 124.72 330.79 124.67 332.31 124.61 333.84 124.56 335.36 124.51 336.88 124.46 338.40 124.40 339.92 124.35 341.44 124.30 342.97 124.25 344.49 124.20 346.01 124.14 347.53 124.09 349.05 124.04 350.57 123.99 352.10 123.93 353.62 123.88 355.14 123.83 356.66 123.78 358.18 123.73 359.70 123.67 361.23 123.62 362.75 123.57 364.27 123.52 365.79 123.46 367.31 123.41 368.83 123.36 370.36 123.31 371.88 123.26 373.40 123.20 374.92 123.15 376.44 123.10 377.96 123.05 379.49 122.99 381.01 122.94 382.53 122.89 384.05 122.84 385.57 122.79 387.09 122.73 388.62 122.68 390.14 122.63 391.66 122.58 393.18 122.52 394.70 122.47 396.22 122.42 397.75 122.37 399.27 122.32 400.79 122.26 402.31 122.21 403.83 122.16 405.35 122.11 406.88 122.05 408.40 122.00 409.92 121.95 411.44 121.90 412.96 121.84 414.48 121.79 416.01 121.74 417.53 121.69 419.05 121.64 420.57 121.58 422.09 121.53 423.62 121.48 425.14 121.43 426.66 121.37 428.18 121.32 429.70 121.27 431.22 121.22 432.75 121.17 434.27 121.11 435.79 121.06" stroke="#4646ff" stroke-width="0.75" fill="none" stroke-dasharray="6.3 2.4"/>
<path d="M247.10 135.66 247.22 135.66 247.45 135.65 247.81 135.64 248.58 135.62 250.06 135.58 250.14 135.58 251.67 135.54 253.19 135.50 254.71 135.46 256.23 135.42 257.75 135.39 259.27 135.35 260.80 135.31 262.32 135.27 263.84 135.23 265.36 135.19 266.88 135.15 268.40 135.11 269.93 135.07 271.45 135.03 272.97 134.99 274.49 134.95 276.01 134.92 277.53 134.88 279.06 134.84 280.58 134.80 282.10 134.76 283.62 134.72 285.14 134.68 286.66 134.64 288.19 134.60 289.71 134.56 291.23 134.52 292.75 134.48 294.27 134.45 295.79 134.41 297.32 134.37 298.84 134.33 300.36 134.29 301.88 134.25 303.40 134.21 304.92 134.17 306.45 134.13 307.97 134.09 309.49 134.05 311.01 134.01 312.53 133.98 314.05 133.94 315.58 133.90 317.10 133.86 318.62 133.82 320.14 133.78 321.66 133.74 323.18 133.70 324.71 133.66 326.23 133.62 327.75 133.58 329.27 133.54 330.79 133.51 332.31 133.47 333.84 133.43 335.36 133.39 336.88 133.35 338.40 133.31 339.92 133.27 341.44 133.23 342.97 133.19 344.49 133.15 346.01 133.11 347.53 133.07 349.05 133.04 350.57 133.00 352.10 132.96 353.62 132.92 355.14 132.88 356.66 132.84 358.18 132.80 359.70 132.76 361.23 132.72 362.75 132.68 364.27 132.64 365.79 132.60 367.31 132.57 368.83 132.53 370.36 132.49 371.88 132.45 373.40 132.41 374.92 132.37 376.44 132.33 377.96 132.29 379.49 132.25 381.01 132.21 382.53 132.17 384.05 132.13 385.57 132.10 387.09 132.06 388.62 132.02 390.14 131.98 391.66 131.94 393.18 131.90 394.70 131.86 396.22 131.82 397.75 131.78 399.27 131.74 400.79 131.70 402.31 131.66 403.83 131.62 405.35 131.59 406.88 131.55 408.40 131.51 409.92 131.47 411.44 131.43 412.96 131.39 414.48 131.35 416.01 131.31 417.53 131.27 419.05 131.23 420.57 131.19 422.09 131.15 423.62 131.12 425.14 131.08 426.66 131.04 428.18 131.00 429.70 130.96 431.22 130.92 432.75 130.88 434.27 130.84 435.79 130.80" stroke="#4646ff" stroke-width="0.75" fill="none" stroke-dasharray="6.3 2.4"/>
<circle cx="276.4" cy="50.2" r="1.9500000000000002" fill="#1e8c1e"/>
<circle cx="261.6" cy="71.6" r="1.9500000000000002" fill="#1e8c1e"/>
<circle cx="261.6" cy="75.6" r="1.6" fill="none" stroke="#1e8c1e" stroke-width="0.65"/>
<circle cx="261.6" cy="78.6" r="1.9500000000000002" fill="#1e8c1e"/>
<circle cx="261.6" cy="80.8" r="1.6" fill="none" stroke="#1e8c1e" stroke-width="0.65"/>
<circle cx="257.1" cy="85.3" r="1.6" fill="none" stroke="#1e8c1e" stroke-width="0.65"/>
<circle cx="257.1" cy="87.5" r="1.9500000000000002" fill="#1e8c1e"/>
<circle cx="257.1" cy="89.8" r="1.6" fill="none" stroke="#1e8c1e" stroke-width="0.65"/>
<circle cx="253.7" cy="98" r="1.6" fill="none" stroke="#1e8c1e" stroke-width="0.65"/>
<circle cx="253.7" cy="99.9" r="1.9500000000000002" fill="#1e8c1e"/>
<circle cx="253.7" cy="102.4" r="1.6" fill="none" stroke="#1e8c1e" stroke-width="0.65"/>
<circle cx="250.5" cy="111.4" r="1.9500000000000002" fill="#1e8c1e"/>
<circle cx="250.5" cy="113.4" r="1.6" fill="none" stroke="#1e8c1e" stroke-width="0.65"/>
<circle cx="249" cy="118" r="1.6" fill="none" stroke="#1e8c1e" stroke-width="0.65"/>
<circle cx="248" cy="122" r="1.6" fill="none" stroke="#1e8c1e" stroke-width="0.65"/>
<circle cx="247.3" cy="128.8" r="1.9500000000000002" fill="#1e8c1e"/>
<circle cx="247.3" cy="131.5" r="1.6" fill="none" stroke="#1e8c1e" stroke-width="0.65"/>
<circle cx="276.2" cy="111.4" r="1.9500000000000002" fill="#ff1010"/>
<circle cx="276.2" cy="112.9" r="1.9500000000000002" fill="#ff1010"/>
<circle cx="276.2" cy="115.4" r="1.6" fill="none" stroke="#ff1010" stroke-width="0.65"/>
<circle cx="276.2" cy="117.4" r="1.6" fill="none" stroke="#ff1010" stroke-width="0.65"/>
<circle cx="261.4" cy="120.1" r="1.9500000000000002" fill="#ff1010"/>
<circle cx="261.4" cy="122.1" r="1.6" fill="none" stroke="#ff1010" stroke-width="0.65"/>
<circle cx="261.4" cy="124.1" r="1.6" fill="none" stroke="#ff1010" stroke-width="0.65"/>
<circle cx="256.8" cy="123.5" r="1.6" fill="none" stroke="#ff1010" stroke-width="0.65"/>
<circle cx="256.8" cy="125.5" r="1.6" fill="none" stroke="#ff1010" stroke-width="0.65"/>
<circle cx="254.1" cy="125.5" r="1.6" fill="none" stroke="#ff1010" stroke-width="0.65"/>
<circle cx="254.1" cy="127.5" r="1.6" fill="none" stroke="#ff1010" stroke-width="0.65"/>
<circle cx="250.7" cy="128.2" r="1.6" fill="none" stroke="#ff1010" stroke-width="0.65"/>
<circle cx="261.4" cy="128.8" r="1.9500000000000002" fill="#0000ff"/>
<circle cx="261.4" cy="131.5" r="1.6" fill="none" stroke="#0000ff" stroke-width="0.65"/>
<circle cx="256.8" cy="131.5" r="1.6" fill="none" stroke="#0000ff" stroke-width="0.65"/>
<circle cx="254.1" cy="131.5" r="1.6" fill="none" stroke="#0000ff" stroke-width="0.65"/>
<circle cx="250.7" cy="131.5" r="1.6" fill="none" stroke="#0000ff" stroke-width="0.65"/>
<circle cx="276.2" cy="128.2" r="1.9500000000000002" fill="#0000ff"/>
<circle cx="276.2" cy="130.8" r="1.6" fill="none" stroke="#0000ff" stroke-width="0.65"/>
<circle cx="291.4" cy="130.5" r="1.6" fill="none" stroke="#0000ff" stroke-width="0.65"/>
<circle cx="306.3" cy="130" r="1.6" fill="none" stroke="#0000ff" stroke-width="0.65"/>
<circle cx="335.5" cy="128.6" r="1.6" fill="none" stroke="#0000ff" stroke-width="0.65"/>
<circle cx="365" cy="128.4" r="1.6" fill="none" stroke="#0000ff" stroke-width="0.65"/>
<circle cx="424.2" cy="126.3" r="1.6" fill="none" stroke="#0000ff" stroke-width="0.65"/>
<text x="256.4" y="44.6" fill="#2a8f2a" style="font-size:5.6px;font-weight:normal">40°C</text>
<text x="334.2" y="76.6" fill="#ff3838" style="font-size:5.6px;font-weight:normal">25°C</text>
<text x="399" y="116.2" fill="#0000ff" style="font-size:5.6px;font-weight:normal">5°C</text>
<text x="465.6" y="12" class="pl">c</text>
<path d="M475.5 17.5V140.5H668.5" stroke="#a6a6a6" stroke-width="1.15" fill="none"/>
<path d="M474 140.5h1.5M474 124.5h1.5M474 108.5h1.5M474 92.5h1.5M474 75.5h1.5M474 59.5h1.5M474 43.5h1.5M474 26.5h1.5M474.5 132.5h1M474.5 116.5h1M474.5 100.5h1M474.5 83.5h1M474.5 67.5h1M474.5 51.5h1M474.5 35.5h1M476.5 140.5v1.5M536.5 140.5v1.5M596.5 140.5v1.5M656.5 140.5v1.5M506.5 140.5v1M566.5 140.5v1M626.5 140.5v1" stroke="#a6a6a6" stroke-width="1" fill="none"/>
<text transform="translate(473.2,143.05) scale(0.96,1.1)" class="tk" text-anchor="end">4</text>
<text transform="translate(473.2,126.79) scale(0.96,1.1)" class="tk" text-anchor="end">6</text>
<text transform="translate(473.2,110.53) scale(0.96,1.1)" class="tk" text-anchor="end">8</text>
<text transform="translate(473.2,94.27) scale(0.96,1.1)" class="tk" text-anchor="end">10</text>
<text transform="translate(473.2,78.01) scale(0.96,1.1)" class="tk" text-anchor="end">12</text>
<text transform="translate(473.2,61.75) scale(0.96,1.1)" class="tk" text-anchor="end">14</text>
<text transform="translate(473.2,45.49) scale(0.96,1.1)" class="tk" text-anchor="end">16</text>
<text transform="translate(473.2,29.23) scale(0.96,1.1)" class="tk" text-anchor="end">18</text>
<text transform="translate(476.8,149.75) scale(0.96,1.1)" class="tk" text-anchor="middle">0</text>
<text transform="translate(536.75,149.75) scale(0.96,1.1)" class="tk" text-anchor="middle">1</text>
<text transform="translate(596.7,149.75) scale(0.96,1.1)" class="tk" text-anchor="middle">2</text>
<text transform="translate(656.65,149.75) scale(0.96,1.1)" class="tk" text-anchor="middle">3</text>
<text transform="translate(460.2,78.9) rotate(-90) scale(1,0.92)" class="lb" style="font-size:7.25px" text-anchor="middle">Sum of acidic variants (%)</text>
<text x="553" y="157.8" class="lb" style="font-size:7.0px">Time (year)</text>
<path d="M476.40 100.06 476.52 100.03 476.76 99.99 477.12 99.93 477.90 99.79 479.40 99.52 479.45 99.51 480.97 99.23 482.49 98.96 484.01 98.68 485.54 98.41 487.06 98.13 488.58 97.86 490.10 97.58 491.63 97.31 493.15 97.04 494.67 96.76 496.19 96.49 497.72 96.21 499.24 95.94 500.76 95.66 502.28 95.39 503.81 95.11 505.33 94.84 506.85 94.56 508.37 94.29 509.90 94.02 511.42 93.74 512.94 93.47 514.46 93.19 515.99 92.92 517.51 92.64 519.03 92.37 520.55 92.09 522.08 91.82 523.60 91.54 525.12 91.27 526.64 90.99 528.17 90.72 529.69 90.45 531.21 90.17 532.73 89.90 534.26 89.62 535.78 89.35 537.30 89.07 538.82 88.80 540.35 88.52 541.87 88.25 543.39 87.97 544.91 87.70 546.44 87.42 547.96 87.15 549.48 86.88 551.00 86.60 552.53 86.33 554.05 86.05 555.57 85.78 557.09 85.50 558.62 85.23 560.14 84.95 561.66 84.68 563.18 84.40 564.71 84.13 566.23 83.85 567.75 83.58 569.27 83.31 570.80 83.03 572.32 82.76 573.84 82.48 575.37 82.21 576.89 81.93 578.41 81.66 579.93 81.38 581.46 81.11 582.98 80.83 584.50 80.56 586.02 80.28 587.55 80.01 589.07 79.74 590.59 79.46 592.11 79.19 593.64 78.91 595.16 78.64 596.68 78.36 598.20 78.09 599.73 77.81 601.25 77.54 602.77 77.26 604.29 76.99 605.82 76.71 607.34 76.44 608.86 76.17 610.38 75.89 611.91 75.62 613.43 75.34 614.95 75.07 616.47 74.79 618.00 74.52 619.52 74.24 621.04 73.97 622.56 73.69 624.09 73.42 625.61 73.14 627.13 72.87 628.65 72.60 630.18 72.32 631.70 72.05 633.22 71.77 634.74 71.50 636.27 71.22 637.79 70.95 639.31 70.67 640.83 70.40 642.36 70.12 643.88 69.85 645.40 69.57 646.92 69.30 648.45 69.03 649.97 68.75 651.49 68.48 653.01 68.20 654.54 67.93 656.06 67.65 657.58 67.38 659.10 67.10 660.63 66.83 662.15 66.55 663.67 66.28 665.19 66.00 666.72 65.73 668.24 65.46" stroke="#4646ff" stroke-width="0.75" fill="none"/>
<path d="M476.40 69.00 476.52 68.98 476.76 68.93 477.12 68.86 477.90 68.72 479.40 68.43 479.45 68.42 480.97 68.13 482.49 67.84 484.01 67.55 485.54 67.27 487.06 66.98 488.58 66.69 490.10 66.40 491.63 66.11 493.15 65.82 494.67 65.53 496.19 65.24 497.72 64.95 499.24 64.66 500.76 64.37 502.28 64.09 503.81 63.80 505.33 63.51 506.85 63.22 508.37 62.93 509.90 62.64 511.42 62.35 512.94 62.06 514.46 61.77 515.99 61.48 517.51 61.20 519.03 60.91 520.55 60.62 522.08 60.33 523.60 60.04 525.12 59.75 526.64 59.46 528.17 59.17 529.69 58.88 531.21 58.59 532.73 58.30 534.26 58.02 535.78 57.73 537.30 57.44 538.82 57.15 540.35 56.86 541.87 56.57 543.39 56.28 544.91 55.99 546.44 55.70 547.96 55.41 549.48 55.12 551.00 54.84 552.53 54.55 554.05 54.26 555.57 53.97 557.09 53.68 558.62 53.39 560.14 53.10 561.66 52.81 563.18 52.52 564.71 52.23 566.23 51.94 567.75 51.66 569.27 51.37 570.80 51.08 572.32 50.79 573.84 50.50 575.37 50.21 576.89 49.92 578.41 49.63 579.93 49.34 581.46 49.05 582.98 48.77 584.50 48.48 586.02 48.19 587.55 47.90 589.07 47.61 590.59 47.32 592.11 47.03 593.64 46.74 595.16 46.45 596.68 46.16 598.20 45.87 599.73 45.59 601.25 45.30 602.77 45.01 604.29 44.72 605.82 44.43 607.34 44.14 608.86 43.85 610.38 43.56 611.91 43.27 613.43 42.98 614.95 42.69 616.47 42.41 618.00 42.12 619.52 41.83 621.04 41.54 622.56 41.25 624.09 40.96 625.61 40.67 627.13 40.38 628.65 40.09 630.18 39.80 631.70 39.52 633.22 39.23 634.74 38.94 636.27 38.65 637.79 38.36 639.31 38.07 640.83 37.78 642.36 37.49 643.88 37.20 645.40 36.91 646.92 36.62 648.45 36.34 649.97 36.05 651.49 35.76 653.01 35.47 654.54 35.18 656.06 34.89 657.58 34.60 659.10 34.31 660.63 34.02 662.15 33.73 663.67 33.44 665.19 33.16 666.72 32.87 668.24 32.58" stroke="#4646ff" stroke-width="0.75" fill="none" stroke-dasharray="6.3 2.4"/>
<path d="M476.40 132.17 476.52 132.15 476.76 132.11 477.12 132.04 477.90 131.91 479.40 131.64 479.45 131.63 480.97 131.36 482.49 131.10 484.01 130.83 485.54 130.56 487.06 130.29 488.58 130.02 490.10 129.75 491.63 129.49 493.15 129.22 494.67 128.95 496.19 128.68 497.72 128.41 499.24 128.14 500.76 127.88 502.28 127.61 503.81 127.34 505.33 127.07 506.85 126.80 508.37 126.53 509.90 126.26 511.42 126.00 512.94 125.73 514.46 125.46 515.99 125.19 517.51 124.92 519.03 124.65 520.55 124.39 522.08 124.12 523.60 123.85 525.12 123.58 526.64 123.31 528.17 123.04 529.69 122.78 531.21 122.51 532.73 122.24 534.26 121.97 535.78 121.70 537.30 121.43 538.82 121.16 540.35 120.90 541.87 120.63 543.39 120.36 544.91 120.09 546.44 119.82 547.96 119.55 549.48 119.29 551.00 119.02 552.53 118.75 554.05 118.48 555.57 118.21 557.09 117.94 558.62 117.68 560.14 117.41 561.66 117.14 563.18 116.87 564.71 116.60 566.23 116.33 567.75 116.06 569.27 115.80 570.80 115.53 572.32 115.26 573.84 114.99 575.37 114.72 576.89 114.45 578.41 114.19 579.93 113.92 581.46 113.65 582.98 113.38 584.50 113.11 586.02 112.84 587.55 112.58 589.07 112.31 590.59 112.04 592.11 111.77 593.64 111.50 595.16 111.23 596.68 110.96 598.20 110.70 599.73 110.43 601.25 110.16 602.77 109.89 604.29 109.62 605.82 109.35 607.34 109.09 608.86 108.82 610.38 108.55 611.91 108.28 613.43 108.01 614.95 107.74 616.47 107.48 618.00 107.21 619.52 106.94 621.04 106.67 622.56 106.40 624.09 106.13 625.61 105.86 627.13 105.60 628.65 105.33 630.18 105.06 631.70 104.79 633.22 104.52 634.74 104.25 636.27 103.99 637.79 103.72 639.31 103.45 640.83 103.18 642.36 102.91 643.88 102.64 645.40 102.38 646.92 102.11 648.45 101.84 649.97 101.57 651.49 101.30 653.01 101.03 654.54 100.76 656.06 100.50 657.58 100.23 659.10 99.96 660.63 99.69 662.15 99.42 663.67 99.15 665.19 98.89 666.72 98.62 668.24 98.35" stroke="#4646ff" stroke-width="0.75" fill="none" stroke-dasharray="6.3 2.4"/>
<circle cx="476.7" cy="90.9" r="1.9500000000000002" fill="#0000ff"/>
<circle cx="480.1" cy="93.5" r="1.9500000000000002" fill="#0000ff"/>
<circle cx="483.5" cy="92" r="1.9500000000000002" fill="#0000ff"/>
<circle cx="486.6" cy="89.6" r="1.9500000000000002" fill="#0000ff"/>
<circle cx="491.3" cy="84.7" r="1.9500000000000002" fill="#0000ff"/>
<circle cx="491.3" cy="96.1" r="1.9500000000000002" fill="#0000ff"/>
<circle cx="506.6" cy="82.3" r="1.9500000000000002" fill="#0000ff"/>
<circle cx="506.6" cy="92.1" r="1.9500000000000002" fill="#0000ff"/>
<circle cx="476.7" cy="102.1" r="1.9500000000000002" fill="#0000ff"/>
<circle cx="483.5" cy="101.9" r="1.9500000000000002" fill="#0000ff"/>
<circle cx="486.6" cy="100.8" r="1.9500000000000002" fill="#0000ff"/>
<circle cx="486.6" cy="103.2" r="1.9500000000000002" fill="#0000ff"/>
<circle cx="476.7" cy="105" r="1.6" fill="none" stroke="#3a3aff" stroke-width="0.75"/>
<circle cx="476.7" cy="107.6" r="1.6" fill="none" stroke="#3a3aff" stroke-width="0.75"/>
<circle cx="476.7" cy="109.7" r="1.6" fill="none" stroke="#3a3aff" stroke-width="0.75"/>
<circle cx="480.1" cy="103.6" r="1.6" fill="none" stroke="#3a3aff" stroke-width="0.75"/>
<circle cx="480.1" cy="107.3" r="1.6" fill="none" stroke="#3a3aff" stroke-width="0.75"/>
<circle cx="480.1" cy="109.2" r="1.6" fill="none" stroke="#3a3aff" stroke-width="0.75"/>
<circle cx="483.5" cy="105" r="1.6" fill="none" stroke="#3a3aff" stroke-width="0.75"/>
<circle cx="483.5" cy="108.1" r="1.6" fill="none" stroke="#3a3aff" stroke-width="0.75"/>
<circle cx="486.6" cy="105.5" r="1.6" fill="none" stroke="#3a3aff" stroke-width="0.75"/>
<circle cx="486.6" cy="108.6" r="1.6" fill="none" stroke="#3a3aff" stroke-width="0.75"/>
<circle cx="491.3" cy="104.5" r="1.6" fill="none" stroke="#3a3aff" stroke-width="0.75"/>
<circle cx="491.3" cy="108.6" r="1.6" fill="none" stroke="#3a3aff" stroke-width="0.75"/>
<circle cx="506.6" cy="97.9" r="1.6" fill="none" stroke="#3a3aff" stroke-width="0.75"/>
<circle cx="506.6" cy="103.4" r="1.6" fill="none" stroke="#3a3aff" stroke-width="0.75"/>
<circle cx="521.2" cy="94.6" r="1.6" fill="none" stroke="#3a3aff" stroke-width="0.75"/>
<circle cx="521.2" cy="104.1" r="1.6" fill="none" stroke="#3a3aff" stroke-width="0.75"/>
<circle cx="536" cy="91.9" r="1.6" fill="none" stroke="#3a3aff" stroke-width="0.75"/>
<circle cx="536" cy="94.5" r="1.6" fill="none" stroke="#3a3aff" stroke-width="0.75"/>
<circle cx="536" cy="97.2" r="1.6" fill="none" stroke="#3a3aff" stroke-width="0.75"/>
<circle cx="565.7" cy="83.9" r="1.6" fill="none" stroke="#3a3aff" stroke-width="0.75"/>
<circle cx="565.7" cy="86.3" r="1.6" fill="none" stroke="#3a3aff" stroke-width="0.75"/>
<circle cx="565.7" cy="91.9" r="1.6" fill="none" stroke="#3a3aff" stroke-width="0.75"/>
<circle cx="595.7" cy="80.1" r="1.6" fill="none" stroke="#3a3aff" stroke-width="0.75"/>
<circle cx="595.7" cy="82" r="1.6" fill="none" stroke="#3a3aff" stroke-width="0.75"/>
<circle cx="595.7" cy="85.2" r="1.6" fill="none" stroke="#3a3aff" stroke-width="0.75"/>
<circle cx="655.9" cy="65.1" r="1.6" fill="none" stroke="#3a3aff" stroke-width="0.75"/>
<circle cx="655.9" cy="67.4" r="1.6" fill="none" stroke="#3a3aff" stroke-width="0.75"/>
<circle cx="655.9" cy="72.7" r="1.6" fill="none" stroke="#3a3aff" stroke-width="0.75"/>
<text x="619.5" y="27.8" fill="#2020e0" style="font-size:6.4px;font-weight:bold">5°C</text>
<text x="13.9" y="188.8" class="pl">d</text>
<path d="M24.5 199.5V317.5H209.5" stroke="#a6a6a6" stroke-width="1.15" fill="none"/>
<path d="M23 317.5h1.5M23 291.5h1.5M23 265.5h1.5M23 239.5h1.5M23 212.5h1.5M23.5 304.5h1M23.5 278.5h1M23.5 252.5h1M23.5 226.5h1M23.5 199.5h1M24.5 317.5v1.5M51.5 317.5v1.5M78.5 317.5v1.5M106.5 317.5v1.5M133.5 317.5v1.5M160.5 317.5v1.5M187.5 317.5v1.5M38.5 317.5v1M65.5 317.5v1M92.5 317.5v1M119.5 317.5v1M146.5 317.5v1M174.5 317.5v1M201.5 317.5v1" stroke="#a6a6a6" stroke-width="1" fill="none"/>
<text transform="translate(21.2,319.95) scale(0.96,1.1)" class="tk" text-anchor="end">0</text>
<text transform="translate(21.2,293.75) scale(0.96,1.1)" class="tk" text-anchor="end">20</text>
<text transform="translate(21.2,267.55) scale(0.96,1.1)" class="tk" text-anchor="end">40</text>
<text transform="translate(21.2,241.35) scale(0.96,1.1)" class="tk" text-anchor="end">60</text>
<text transform="translate(21.2,215.15) scale(0.96,1.1)" class="tk" text-anchor="end">80</text>
<text transform="translate(24,326.45) scale(0.96,1.1)" class="tk" text-anchor="middle">0</text>
<text transform="translate(51.2,326.45) scale(0.96,1.1)" class="tk" text-anchor="middle">1</text>
<text transform="translate(78.4,326.45) scale(0.96,1.1)" class="tk" text-anchor="middle">2</text>
<text transform="translate(105.6,326.45) scale(0.96,1.1)" class="tk" text-anchor="middle">3</text>
<text transform="translate(132.8,326.45) scale(0.96,1.1)" class="tk" text-anchor="middle">4</text>
<text transform="translate(160,326.45) scale(0.96,1.1)" class="tk" text-anchor="middle">5</text>
<text transform="translate(187.2,326.45) scale(0.96,1.1)" class="tk" text-anchor="middle">6</text>
<text transform="translate(9.6,258) rotate(-90) scale(1,0.92)" class="lb" style="font-size:7.0px" text-anchor="middle">Free Polysaccharide (%)</text>
<text x="94.6" y="333.6" class="lb" style="font-size:6.9px">Time (month)</text>
<path d="M24.00 317.20 24.05 313.75 24.16 307.08 24.33 297.96 24.68 283.79 25.36 267.42 25.57 264.20 27.14 248.30 28.70 237.85 30.27 232.02 31.84 227.89 33.41 224.68 34.98 222.09 36.54 219.84 38.11 217.96 39.68 216.37 41.25 214.91 42.82 213.44 44.38 212.01 45.95 210.65 47.52 209.39 49.09 208.26 50.66 207.30 52.22 206.42 53.79 205.62 55.36 204.90 56.93 204.27 58.50 203.72 60.06 203.20 61.63 202.68 63.20 202.19 64.77 201.71 66.34 201.26 67.90 200.84 69.47 200.46 71.04 200.11 72.61 199.80 74.18 199.54 75.74 199.32 77.31 199.17" stroke="#ff30ff" stroke-width="0.75" fill="none" stroke-dasharray="6.3 2.4"/>
<path d="M24.00 317.20 24.05 314.41 24.16 309.01 24.33 301.59 24.68 289.72 25.36 275.28 25.54 272.40 27.08 254.99 28.62 243.73 30.17 237.71 31.71 233.10 33.25 229.35 34.79 226.35 36.33 223.95 37.87 222.05 39.41 220.42 40.95 218.98 42.50 217.71 44.04 216.58 45.58 215.58 47.12 214.68 48.66 213.86 50.20 213.09 51.74 212.38 53.29 211.75 54.83 211.16 56.37 210.63 57.91 210.13 59.45 209.65 60.99 209.20 62.53 208.75 64.07 208.32 65.62 207.91 67.16 207.50 68.70 207.12 70.24 206.74 71.78 206.38 73.32 206.03 74.86 205.70 76.41 205.38 77.95 205.07 79.49 204.77 81.03 204.49 82.57 204.21 84.11 203.94 85.65 203.67 87.19 203.42 88.74 203.17 90.28 202.93 91.82 202.70 93.36 202.48 94.90 202.28 96.44 202.08 97.98 201.90 99.53 201.72 101.07 201.56 102.61 201.41 104.15 201.25 105.69 201.10 107.23 200.95 108.77 200.80 110.31 200.65 111.86 200.51 113.40 200.37 114.94 200.24 116.48 200.11 118.02 199.99 119.56 199.87 121.10 199.75 122.65 199.64 124.19 199.54 125.73 199.45 127.27 199.36 128.81 199.28 130.35 199.21 131.89 199.14 133.43 199.09 134.98 199.04" stroke="#ff30ff" stroke-width="0.75" fill="none"/>
<path d="M24.00 317.20 24.05 315.61 24.16 312.45 24.33 307.85 24.68 299.00 25.36 286.93 25.52 284.56 27.03 267.12 28.55 255.40 30.06 247.49 31.58 241.50 33.10 236.98 34.61 233.67 36.13 230.90 37.64 228.60 39.16 226.77 40.68 225.34 42.19 224.11 43.71 223.04 45.22 222.09 46.74 221.24 48.26 220.46 49.77 219.72 51.29 219.01 52.81 218.35 54.32 217.74 55.84 217.17 57.35 216.63 58.87 216.13 60.39 215.66 61.90 215.20 63.42 214.76 64.93 214.32 66.45 213.90 67.97 213.50 69.48 213.11 71.00 212.73 72.51 212.37 74.03 212.03 75.55 211.70 77.06 211.39 78.58 211.09 80.09 210.82 81.61 210.56 83.13 210.31 84.64 210.07 86.16 209.84 87.67 209.62 89.19 209.41 90.71 209.21 92.22 209.01 93.74 208.82 95.26 208.64 96.77 208.45 98.29 208.27 99.80 208.09 101.32 207.90 102.84 207.72 104.35 207.54 105.87 207.35 107.38 207.17 108.90 206.99 110.42 206.81 111.93 206.64 113.45 206.46 114.96 206.29 116.48 206.13 118.00 205.97 119.51 205.81 121.03 205.67 122.54 205.52 124.06 205.39 125.58 205.26 127.09 205.14 128.61 205.03 130.12 204.93 131.64 204.84 133.16 204.74 134.67 204.65 136.19 204.57 137.70 204.49 139.22 204.40 140.74 204.33 142.25 204.25 143.77 204.18 145.29 204.11 146.80 204.04 148.32 203.97 149.83 203.90 151.35 203.84 152.87 203.78 154.38 203.72 155.90 203.66 157.41 203.60 158.93 203.55 160.45 203.49 161.96 203.44 163.48 203.39 164.99 203.34 166.51 203.28 168.03 203.23 169.54 203.18 171.06 203.14 172.57 203.09 174.09 203.04 175.61 202.99 177.12 202.95 178.64 202.90 180.15 202.86 181.67 202.81 183.19 202.77 184.70 202.72 186.22 202.68 187.74 202.64 189.25 202.60 190.77 202.56 192.28 202.52 193.80 202.49 195.32 202.45 196.83 202.42 198.35 202.38 199.86 202.35 201.38 202.32 202.90 202.29 204.41 202.26 205.93 202.23 207.44 202.21 208.96 202.18" stroke="#ff30ff" stroke-width="0.75" fill="none" stroke-dasharray="6.3 2.4"/>
<path d="M24.00 317.20 24.05 316.74 24.16 315.83 24.33 314.47 24.68 311.59 25.36 306.34 25.52 305.20 27.03 295.90 28.55 288.80 30.06 282.98 31.58 278.09 33.10 273.73 34.61 269.85 36.13 266.41 37.64 263.41 39.16 260.77 40.68 258.39 42.19 256.23 43.71 254.24 45.22 252.35 46.74 250.52 48.26 248.71 49.77 246.94 51.29 245.23 52.81 243.60 54.32 242.07 55.84 240.66 57.35 239.38 58.87 238.27 60.39 237.30 61.90 236.40 63.42 235.55 64.93 234.75 66.45 234.00 67.97 233.29 69.48 232.62 71.00 231.98 72.51 231.37 74.03 230.78 75.55 230.22 77.06 229.68 78.58 229.14 80.09 228.62 81.61 228.11 83.13 227.63 84.64 227.15 86.16 226.70 87.67 226.26 89.19 225.84 90.71 225.42 92.22 225.02 93.74 224.64 95.26 224.26 96.77 223.88 98.29 223.52 99.80 223.16 101.32 222.81 102.84 222.46 104.35 222.11 105.87 221.77 107.38 221.43 108.90 221.09 110.42 220.76 111.93 220.44 113.45 220.12 114.96 219.81 116.48 219.50 118.00 219.21 119.51 218.91 121.03 218.63 122.54 218.36 124.06 218.09 125.58 217.83 127.09 217.58 128.61 217.34 130.12 217.11 131.64 216.89 133.16 216.67 134.67 216.45 136.19 216.25 137.70 216.04 139.22 215.84 140.74 215.65 142.25 215.45 143.77 215.27 145.29 215.08 146.80 214.90 148.32 214.73 149.83 214.55 151.35 214.38 152.87 214.22 154.38 214.05 155.90 213.89 157.41 213.73 158.93 213.57 160.45 213.42 161.96 213.27 163.48 213.12 164.99 212.97 166.51 212.82 168.03 212.67 169.54 212.53 171.06 212.39 172.57 212.25 174.09 212.11 175.61 211.97 177.12 211.83 178.64 211.70 180.15 211.56 181.67 211.43 183.19 211.30 184.70 211.17 186.22 211.04 187.74 210.92 189.25 210.79 190.77 210.67 192.28 210.55 193.80 210.44 195.32 210.32 196.83 210.21 198.35 210.10 199.86 209.99 201.38 209.88 202.90 209.78 204.41 209.68 205.93 209.58 207.44 209.48 208.96 209.39" stroke="#3aa53a" stroke-width="0.75" fill="none"/>
<path d="M24.00 317.20 24.05 316.65 24.16 315.54 24.33 313.90 24.68 310.42 25.36 304.08 25.52 302.72 27.03 291.69 28.55 283.35 30.06 276.66 31.58 271.36 33.10 266.61 34.61 262.31 36.13 258.46 37.64 255.10 39.16 252.23 40.68 249.87 42.19 247.78 43.71 245.83 45.22 244.03 46.74 242.35 48.26 240.79 49.77 239.35 51.29 238.00 52.81 236.73 54.32 235.55 55.84 234.44 57.35 233.38 58.87 232.37 60.39 231.40 61.90 230.47 63.42 229.57 64.93 228.72 66.45 227.90 67.97 227.12 69.48 226.37 71.00 225.66 72.51 224.98 74.03 224.34 75.55 223.73 77.06 223.14 78.58 222.59 80.09 222.07 81.61 221.58 83.13 221.11 84.64 220.67 86.16 220.24 87.67 219.84 89.19 219.45 90.71 219.08 92.22 218.71 93.74 218.36 95.26 218.02 96.77 217.68 98.29 217.34 99.80 217.00 101.32 216.67 102.84 216.34 104.35 216.01 105.87 215.68 107.38 215.36 108.90 215.05 110.42 214.73 111.93 214.42 113.45 214.12 114.96 213.82 116.48 213.53 118.00 213.25 119.51 212.97 121.03 212.69 122.54 212.43 124.06 212.17 125.58 211.92 127.09 211.68 128.61 211.44 130.12 211.21 131.64 210.99 133.16 210.78 134.67 210.57 136.19 210.36 137.70 210.16 139.22 209.96 140.74 209.77 142.25 209.57 143.77 209.39 145.29 209.20 146.80 209.02 148.32 208.84 149.83 208.67 151.35 208.50 152.87 208.33 154.38 208.16 155.90 208.00 157.41 207.84 158.93 207.68 160.45 207.53 161.96 207.37 163.48 207.22 164.99 207.07 166.51 206.93 168.03 206.78 169.54 206.64 171.06 206.49 172.57 206.35 174.09 206.21 175.61 206.07 177.12 205.94 178.64 205.80 180.15 205.67 181.67 205.53 183.19 205.40 184.70 205.27 186.22 205.15 187.74 205.02 189.25 204.90 190.77 204.78 192.28 204.66 193.80 204.54 195.32 204.43 196.83 204.31 198.35 204.20 199.86 204.09 201.38 203.99 202.90 203.88 204.41 203.78 205.93 203.68 207.44 203.59 208.96 203.49" stroke="#3aa53a" stroke-width="0.75" fill="none" stroke-dasharray="6.3 2.4"/>
<path d="M24.00 317.20 24.05 316.84 24.16 316.11 24.33 315.04 24.68 312.76 25.36 308.58 25.52 307.68 27.03 300.12 28.55 294.20 30.06 289.23 31.58 284.90 33.10 280.99 34.61 277.44 36.13 274.21 37.64 271.27 39.16 268.53 40.68 265.95 42.19 263.51 43.71 261.22 45.22 259.06 46.74 257.03 48.26 255.12 49.77 253.29 51.29 251.51 52.81 249.80 54.32 248.19 55.84 246.70 57.35 245.36 58.87 244.18 60.39 243.16 61.90 242.20 63.42 241.29 64.93 240.43 66.45 239.61 67.97 238.83 69.48 238.09 71.00 237.40 72.51 236.74 74.03 236.13 75.55 235.54 77.06 234.99 78.58 234.48 80.09 234.00 81.61 233.54 83.13 233.11 84.64 232.71 86.16 232.33 87.67 231.97 89.19 231.62 90.71 231.29 92.22 230.97 93.74 230.66 95.26 230.35 96.77 230.05 98.29 229.75 99.80 229.45 101.32 229.15 102.84 228.85 104.35 228.55 105.87 228.26 107.38 227.97 108.90 227.69 110.42 227.41 111.93 227.14 113.45 226.87 114.96 226.60 116.48 226.34 118.00 226.08 119.51 225.82 121.03 225.58 122.54 225.33 124.06 225.09 125.58 224.86 127.09 224.63 128.61 224.40 130.12 224.18 131.64 223.97 133.16 223.75 134.67 223.54 136.19 223.34 137.70 223.13 139.22 222.93 140.74 222.73 142.25 222.53 143.77 222.34 145.29 222.15 146.80 221.96 148.32 221.77 149.83 221.59 151.35 221.41 152.87 221.23 154.38 221.06 155.90 220.89 157.41 220.72 158.93 220.55 160.45 220.39 161.96 220.23 163.48 220.07 164.99 219.92 166.51 219.77 168.03 219.62 169.54 219.47 171.06 219.33 172.57 219.18 174.09 219.04 175.61 218.90 177.12 218.76 178.64 218.63 180.15 218.49 181.67 218.36 183.19 218.23 184.70 218.10 186.22 217.97 187.74 217.85 189.25 217.72 190.77 217.60 192.28 217.48 193.80 217.37 195.32 217.25 196.83 217.14 198.35 217.03 199.86 216.92 201.38 216.82 202.90 216.71 204.41 216.61 205.93 216.52 207.44 216.42 208.96 216.33" stroke="#3aa53a" stroke-width="0.75" fill="none" stroke-dasharray="6.3 2.4"/>
<path d="M24.00 316.81 24.05 316.79 24.16 316.75 24.33 316.70 24.68 316.59 25.36 316.37 25.52 316.32 27.03 315.85 28.55 315.37 30.06 314.90 31.58 314.43 33.10 313.96 34.61 313.50 36.13 313.04 37.64 312.59 39.16 312.14 40.68 311.69 42.19 311.24 43.71 310.80 45.22 310.36 46.74 309.93 48.26 309.50 49.77 309.07 51.29 308.64 52.81 308.22 54.32 307.80 55.84 307.39 57.35 306.97 58.87 306.57 60.39 306.16 61.90 305.76 63.42 305.36 64.93 304.96 66.45 304.57 67.97 304.18 69.48 303.79 71.00 303.40 72.51 303.02 74.03 302.64 75.55 302.27 77.06 301.90 78.58 301.53 80.09 301.16 81.61 300.80 83.13 300.44 84.64 300.09 86.16 299.74 87.67 299.39 89.19 299.05 90.71 298.71 92.22 298.38 93.74 298.05 95.26 297.73 96.77 297.41 98.29 297.09 99.80 296.78 101.32 296.48 102.84 296.17 104.35 295.87 105.87 295.57 107.38 295.28 108.90 294.99 110.42 294.70 111.93 294.41 113.45 294.13 114.96 293.84 116.48 293.56 118.00 293.29 119.51 293.01 121.03 292.74 122.54 292.47 124.06 292.20 125.58 291.93 127.09 291.66 128.61 291.40 130.12 291.14 131.64 290.88 133.16 290.62 134.67 290.36 136.19 290.11 137.70 289.86 139.22 289.60 140.74 289.35 142.25 289.10 143.77 288.85 145.29 288.61 146.80 288.36 148.32 288.12 149.83 287.87 151.35 287.63 152.87 287.39 154.38 287.15 155.90 286.92 157.41 286.69 158.93 286.46 160.45 286.23 161.96 286.00 163.48 285.78 164.99 285.56 166.51 285.34 168.03 285.13 169.54 284.92 171.06 284.70 172.57 284.50 174.09 284.29 175.61 284.08 177.12 283.87 178.64 283.67 180.15 283.46 181.67 283.26 183.19 283.06 184.70 282.86 186.22 282.66 187.74 282.46 189.25 282.26 190.77 282.07 192.28 281.88 193.80 281.68 195.32 281.49 196.83 281.31 198.35 281.12 199.86 280.93 201.38 280.75 202.90 280.57 204.41 280.39 205.93 280.21 207.44 280.04 208.96 279.87" stroke="#ff3838" stroke-width="0.75" fill="none"/>
<path d="M24.00 309.47 24.05 309.45 24.16 309.42 24.33 309.37 24.68 309.26 25.36 309.04 25.52 308.99 27.03 308.52 28.55 308.05 30.06 307.58 31.58 307.11 33.10 306.65 34.61 306.20 36.13 305.74 37.64 305.29 39.16 304.84 40.68 304.40 42.19 303.96 43.71 303.52 45.22 303.09 46.74 302.66 48.26 302.23 49.77 301.81 51.29 301.39 52.81 300.97 54.32 300.55 55.84 300.14 57.35 299.73 58.87 299.33 60.39 298.93 61.90 298.53 63.42 298.13 64.93 297.74 66.45 297.35 67.97 296.97 69.48 296.58 71.00 296.20 72.51 295.83 74.03 295.45 75.55 295.08 77.06 294.71 78.58 294.35 80.09 293.99 81.61 293.63 83.13 293.28 84.64 292.93 86.16 292.58 87.67 292.24 89.19 291.90 90.71 291.57 92.22 291.24 93.74 290.92 95.26 290.60 96.77 290.28 98.29 289.97 99.80 289.66 101.32 289.36 102.84 289.06 104.35 288.77 105.87 288.47 107.38 288.18 108.90 287.90 110.42 287.61 111.93 287.33 113.45 287.05 114.96 286.77 116.48 286.49 118.00 286.22 119.51 285.95 121.03 285.68 122.54 285.41 124.06 285.15 125.58 284.89 127.09 284.63 128.61 284.37 130.12 284.11 131.64 283.85 133.16 283.60 134.67 283.35 136.19 283.10 137.70 282.85 139.22 282.60 140.74 282.35 142.25 282.11 143.77 281.87 145.29 281.62 146.80 281.38 148.32 281.14 149.83 280.90 151.35 280.66 152.87 280.43 154.38 280.19 155.90 279.96 157.41 279.74 158.93 279.51 160.45 279.29 161.96 279.07 163.48 278.85 164.99 278.63 166.51 278.42 168.03 278.21 169.54 278.00 171.06 277.79 172.57 277.59 174.09 277.38 175.61 277.18 177.12 276.98 178.64 276.78 180.15 276.58 181.67 276.38 183.19 276.18 184.70 275.99 186.22 275.79 187.74 275.60 189.25 275.41 190.77 275.21 192.28 275.03 193.80 274.84 195.32 274.65 196.83 274.47 198.35 274.29 199.86 274.11 201.38 273.93 202.90 273.75 204.41 273.58 205.93 273.40 207.44 273.23 208.96 273.06" stroke="#ff3838" stroke-width="0.75" fill="none" stroke-dasharray="6.3 2.4"/>
<path d="M45.22 317.04 46.74 316.61 48.26 316.18 49.77 315.75 51.29 315.32 52.81 314.90 54.32 314.48 55.84 314.07 57.35 313.66 58.87 313.25 60.39 312.84 61.90 312.44 63.42 312.04 64.93 311.64 66.45 311.25 67.97 310.86 69.48 310.47 71.00 310.08 72.51 309.70 74.03 309.32 75.55 308.95 77.06 308.58 78.58 308.21 80.09 307.84 81.61 307.48 83.13 307.12 84.64 306.77 86.16 306.42 87.67 306.07 89.19 305.73 90.71 305.39 92.22 305.06 93.74 304.73 95.26 304.41 96.77 304.09 98.29 303.77 99.80 303.46 101.32 303.16 102.84 302.85 104.35 302.55 105.87 302.26 107.38 301.96 108.90 301.67 110.42 301.38 111.93 301.09 113.45 300.81 114.96 300.52 116.48 300.24 118.00 299.97 119.51 299.69 121.03 299.42 122.54 299.15 124.06 298.88 125.58 298.61 127.09 298.35 128.61 298.08 130.12 297.82 131.64 297.56 133.16 297.30 134.67 297.05 136.19 296.79 137.70 296.54 139.22 296.28 140.74 296.03 142.25 295.78 143.77 295.54 145.29 295.29 146.80 295.04 148.32 294.80 149.83 294.55 151.35 294.31 152.87 294.07 154.38 293.83 155.90 293.60 157.41 293.37 158.93 293.14 160.45 292.91 161.96 292.68 163.48 292.46 164.99 292.24 166.51 292.02 168.03 291.81 169.54 291.60 171.06 291.39 172.57 291.18 174.09 290.97 175.61 290.76 177.12 290.55 178.64 290.35 180.15 290.14 181.67 289.94 183.19 289.74 184.70 289.54 186.22 289.34 187.74 289.14 189.25 288.94 190.77 288.75 192.28 288.56 193.80 288.37 195.32 288.18 196.83 287.99 198.35 287.80 199.86 287.62 201.38 287.43 202.90 287.25 204.41 287.07 205.93 286.89 207.44 286.72 208.96 286.55" stroke="#ff3838" stroke-width="0.75" fill="none" stroke-dasharray="6.3 2.4"/>
<path d="M36.1 217.54L37.75 214.66L34.45 214.66Z" fill="none" stroke="#f010f0" stroke-width="0.65"/>
<path d="M48.6 216.94L50.25 214.06L46.95 214.06Z" fill="none" stroke="#f010f0" stroke-width="0.65"/>
<path d="M48.6 219.34L50.25 216.46L46.95 216.46Z" fill="none" stroke="#f010f0" stroke-width="0.65"/>
<path d="M42.3 222.84L43.95 219.96L40.65 219.96Z" fill="none" stroke="#f010f0" stroke-width="0.65"/>
<path d="M42.3 225.94L43.95 223.06L40.65 223.06Z" fill="none" stroke="#f010f0" stroke-width="0.65"/>
<path d="M31.6 233.94L33.25 231.06L29.95 231.06Z" fill="none" stroke="#f010f0" stroke-width="0.65"/>
<path d="M31.6 236.64L33.25 233.76L29.95 233.76Z" fill="none" stroke="#f010f0" stroke-width="0.65"/>
<path d="M29.5 241.94L31.15 239.06L27.85 239.06Z" fill="none" stroke="#f010f0" stroke-width="0.65"/>
<path d="M28 249.14L29.65 246.26L26.35 246.26Z" fill="none" stroke="#f010f0" stroke-width="0.65"/>
<path d="M27 256.44L28.65 253.56L25.35 253.56Z" fill="none" stroke="#f010f0" stroke-width="0.65"/>
<path d="M26 266.44L27.65 263.56L24.35 263.56Z" fill="none" stroke="#f010f0" stroke-width="0.65"/>
<path d="M25.3 276.44L26.95 273.56L23.65 273.56Z" fill="none" stroke="#f010f0" stroke-width="0.65"/>
<rect x="47.1" y="218.3" width="3" height="3" fill="none" stroke="#f010f0" stroke-width="0.65"/>
<rect x="40.8" y="224.8" width="3" height="3" fill="none" stroke="#f010f0" stroke-width="0.65"/>
<path d="M48.8 246.64L50.45 243.76L47.15 243.76Z" fill="none" stroke="#1e8c1e" stroke-width="0.65"/>
<rect x="47.3" y="246.7" width="3" height="3" fill="none" stroke="#1e8c1e" stroke-width="0.65"/>
<rect x="43.1" y="250" width="3" height="3" fill="none" stroke="#1e8c1e" stroke-width="0.65"/>
<path d="M44.6 255.74L46.25 252.86L42.95 252.86Z" fill="none" stroke="#1e8c1e" stroke-width="0.65"/>
<rect x="34.1" y="256.1" width="3" height="3" fill="none" stroke="#1e8c1e" stroke-width="0.65"/>
<rect x="34.1" y="259.3" width="3" height="3" fill="none" stroke="#1e8c1e" stroke-width="0.65"/>
<rect x="33" y="264.1" width="3" height="3" fill="none" stroke="#1e8c1e" stroke-width="0.65"/>
<path d="M34.5 270.24L36.15 267.36L32.85 267.36Z" fill="none" stroke="#1e8c1e" stroke-width="0.65"/>
<rect x="30.3" y="272" width="3" height="3" fill="none" stroke="#1e8c1e" stroke-width="0.65"/>
<rect x="30.3" y="274.9" width="3" height="3" fill="none" stroke="#1e8c1e" stroke-width="0.65"/>
<path d="M31.6 280.64L33.25 277.76L29.95 277.76Z" fill="none" stroke="#1e8c1e" stroke-width="0.65"/>
<rect x="27.6" y="281.1" width="3" height="3" fill="none" stroke="#1e8c1e" stroke-width="0.65"/>
<path d="M29.1 286.64L30.75 283.76L27.45 283.76Z" fill="none" stroke="#1e8c1e" stroke-width="0.65"/>
<rect x="25.1" y="289.1" width="3" height="3" fill="none" stroke="#1e8c1e" stroke-width="0.65"/>
<path d="M26.6 295.04L28.25 292.16L24.95 292.16Z" fill="none" stroke="#1e8c1e" stroke-width="0.65"/>
<path d="M51.1 310.44L52.75 307.56L49.45 307.56Z" fill="none" stroke="#ff1010" stroke-width="0.65"/>
<path d="M106.1 299.44L107.75 296.56L104.45 296.56Z" fill="none" stroke="#ff1010" stroke-width="0.65"/>
<rect x="185.1" y="279.9" width="3" height="3" fill="none" stroke="#ff1010" stroke-width="0.65"/>
<path d="M186.6 284.94L188.25 282.06L184.95 282.06Z" fill="none" stroke="#ff1010" stroke-width="0.65"/>
<rect x="185.1" y="285.9" width="3" height="3" fill="none" stroke="#ff1010" stroke-width="0.65"/>
<text x="41.3" y="202.8" fill="#f010f0" style="font-size:5.3px;font-weight:bold">56°C</text>
<text x="68" y="252.4" fill="#22a050" style="font-size:5.2px;font-weight:bold">45°C</text>
<text x="91.5" y="283.8" fill="#ff0a0a" style="font-size:5.2px;font-weight:bold">25°C</text>
<text x="235.6" y="182.2" class="pl">e</text>
<path d="M247.5 199.5V316.9H436" stroke="#a6a6a6" stroke-width="1.15" fill="none"/>
<path d="M246 316.5h1.5M246 290.5h1.5M246 264.5h1.5M246 238.5h1.5M246 212.5h1.5M246.5 303.5h1M246.5 277.5h1M246.5 251.5h1M246.5 225.5h1M246.5 199.5h1M248.5 316.9v1.5M275.5 316.9v1.5M303.5 316.9v1.5M330.5 316.9v1.5M358.5 316.9v1.5M386.5 316.9v1.5M413.5 316.9v1.5M261.5 316.9v1M289.5 316.9v1M316.5 316.9v1M344.5 316.9v1M372.5 316.9v1M399.5 316.9v1M427.5 316.9v1" stroke="#a6a6a6" stroke-width="1" fill="none"/>
<text transform="translate(244.8,319.25) scale(0.96,1.1)" class="tk" text-anchor="end">0</text>
<text transform="translate(244.8,293.17) scale(0.96,1.1)" class="tk" text-anchor="end">20</text>
<text transform="translate(244.8,267.09) scale(0.96,1.1)" class="tk" text-anchor="end">40</text>
<text transform="translate(244.8,241.01) scale(0.96,1.1)" class="tk" text-anchor="end">60</text>
<text transform="translate(244.8,214.93) scale(0.96,1.1)" class="tk" text-anchor="end">80</text>
<text transform="translate(247,325.95) scale(0.96,1.1)" class="tk" text-anchor="middle">0</text>
<text transform="translate(274.6,325.95) scale(0.96,1.1)" class="tk" text-anchor="middle">1</text>
<text transform="translate(302.2,325.95) scale(0.96,1.1)" class="tk" text-anchor="middle">2</text>
<text transform="translate(329.8,325.95) scale(0.96,1.1)" class="tk" text-anchor="middle">3</text>
<text transform="translate(357.4,325.95) scale(0.96,1.1)" class="tk" text-anchor="middle">4</text>
<text transform="translate(385,325.95) scale(0.96,1.1)" class="tk" text-anchor="middle">5</text>
<text transform="translate(412.6,325.95) scale(0.96,1.1)" class="tk" text-anchor="middle">6</text>
<text transform="translate(232.8,257.3) rotate(-90) scale(1,0.92)" class="lb" style="font-size:7.0px" text-anchor="middle">Free Polysaccharide (%)</text>
<text x="319.5" y="333" class="lb" style="font-size:6.9px">Time (month)</text>
<path d="M247.50 316.50 247.56 314.12 247.67 309.29 247.83 301.98 248.19 286.84 248.88 266.95 249.07 264.22 250.64 247.00 252.22 237.06 253.79 231.61 255.36 227.63 256.93 224.55 258.51 222.09 260.08 219.98 261.65 217.95 263.22 215.97 264.80 214.17 266.37 212.55 267.94 211.12 269.51 209.88 271.09 208.83 272.66 207.93 274.23 207.12 275.80 206.36 277.37 205.64 278.95 204.94 280.52 204.28 282.09 203.67 283.66 203.09 285.24 202.56 286.81 202.07 288.38 201.60 289.95 201.15 291.53 200.72 293.10 200.31 294.67 199.94 296.24 199.59 297.82 199.28 299.39 199.01" stroke="#ff30ff" stroke-width="0.75" fill="none" stroke-dasharray="6.3 2.4"/>
<path d="M247.50 316.50 247.56 314.60 247.67 310.82 247.83 305.22 248.19 293.78 248.88 277.38 249.02 275.25 250.53 256.79 252.05 246.53 253.56 240.04 255.08 235.41 256.59 231.90 258.11 228.98 259.63 226.60 261.14 224.73 262.66 223.23 264.17 221.88 265.69 220.68 267.21 219.61 268.72 218.66 270.24 217.80 271.75 217.03 273.27 216.32 274.78 215.70 276.30 215.15 277.82 214.63 279.33 214.15 280.85 213.67 282.36 213.20 283.88 212.72 285.39 212.26 286.91 211.80 288.43 211.35 289.94 210.91 291.46 210.49 292.97 210.09 294.49 209.71 296.00 209.35 297.52 209.01 299.04 208.70 300.55 208.42 302.07 208.14 303.58 207.88 305.10 207.62 306.62 207.36 308.13 207.11 309.65 206.87 311.16 206.63 312.68 206.40 314.19 206.17 315.71 205.95 317.23 205.74 318.74 205.53 320.26 205.33 321.77 205.13 323.29 204.95 324.80 204.76 326.32 204.59 327.84 204.42 329.35 204.26 330.87 204.10 332.38 203.95 333.90 203.81 335.41 203.68 336.93 203.55 338.45 203.43 339.96 203.31 341.48 203.20 342.99 203.10 344.51 202.99 346.03 202.89 347.54 202.79 349.06 202.70 350.57 202.61 352.09 202.52 353.60 202.43 355.12 202.34 356.64 202.26 358.15 202.17 359.67 202.09 361.18 202.02 362.70 201.94 364.21 201.87 365.73 201.79 367.25 201.72 368.76 201.65 370.28 201.58 371.79 201.52 373.31 201.45 374.83 201.39 376.34 201.32 377.86 201.26 379.37 201.20 380.89 201.14 382.40 201.08 383.92 201.02 385.44 200.97 386.95 200.91 388.47 200.85 389.98 200.79 391.50 200.74 393.01 200.68 394.53 200.63 396.05 200.57 397.56 200.52 399.08 200.46 400.59 200.41 402.11 200.36 403.62 200.30 405.14 200.25 406.66 200.20 408.17 200.15 409.69 200.10 411.20 200.05 412.72 200.01 414.24 199.96 415.75 199.91 417.27 199.87 418.78 199.83 420.30 199.78 421.81 199.74 423.33 199.70 424.85 199.66 426.36 199.62 427.88 199.58 429.39 199.54 430.91 199.50 432.42 199.47 433.94 199.43 435.46 199.40" stroke="#ff30ff" stroke-width="0.75" fill="none"/>
<path d="M247.50 316.50 247.56 315.74 247.67 314.23 247.83 311.98 248.19 307.21 248.88 298.52 249.02 296.90 250.53 281.51 252.05 269.11 253.56 259.19 255.08 252.57 256.59 247.25 258.11 242.78 259.63 239.22 261.14 236.61 262.66 234.79 264.17 233.22 265.69 231.84 267.21 230.62 268.72 229.55 270.24 228.60 271.75 227.75 273.27 226.98 274.78 226.26 276.30 225.58 277.82 224.92 279.33 224.29 280.85 223.69 282.36 223.12 283.88 222.57 285.39 222.05 286.91 221.56 288.43 221.09 289.94 220.65 291.46 220.23 292.97 219.84 294.49 219.46 296.00 219.11 297.52 218.79 299.04 218.48 300.55 218.20 302.07 217.92 303.58 217.65 305.10 217.39 306.62 217.14 308.13 216.89 309.65 216.65 311.16 216.42 312.68 216.19 314.19 215.97 315.71 215.76 317.23 215.56 318.74 215.36 320.26 215.17 321.77 214.98 323.29 214.80 324.80 214.63 326.32 214.46 327.84 214.30 329.35 214.15 330.87 214.00 332.38 213.86 333.90 213.72 335.41 213.59 336.93 213.46 338.45 213.34 339.96 213.22 341.48 213.11 342.99 213.00 344.51 212.90 346.03 212.79 347.54 212.69 349.06 212.59 350.57 212.50 352.09 212.40 353.60 212.31 355.12 212.22 356.64 212.14 358.15 212.05 359.67 211.97 361.18 211.89 362.70 211.81 364.21 211.73 365.73 211.65 367.25 211.58 368.76 211.51 370.28 211.43 371.79 211.36 373.31 211.29 374.83 211.23 376.34 211.16 377.86 211.09 379.37 211.03 380.89 210.96 382.40 210.90 383.92 210.84 385.44 210.78 386.95 210.71 388.47 210.65 389.98 210.59 391.50 210.53 393.01 210.47 394.53 210.41 396.05 210.35 397.56 210.29 399.08 210.23 400.59 210.17 402.11 210.12 403.62 210.06 405.14 210.00 406.66 209.95 408.17 209.89 409.69 209.84 411.20 209.79 412.72 209.73 414.24 209.68 415.75 209.63 417.27 209.58 418.78 209.53 420.30 209.48 421.81 209.44 423.33 209.39 424.85 209.34 426.36 209.30 427.88 209.26 429.39 209.21 430.91 209.17 432.42 209.13 433.94 209.09 435.46 209.05" stroke="#ff30ff" stroke-width="0.75" fill="none" stroke-dasharray="6.3 2.4"/>
<path d="M247.50 316.50 247.56 316.03 247.67 315.08 247.83 313.68 248.19 310.69 248.88 305.20 249.02 304.17 250.53 293.99 252.05 285.30 253.56 278.07 255.08 272.95 256.59 268.71 258.11 264.97 259.63 261.65 261.14 258.67 262.66 255.98 264.17 253.49 265.69 251.14 267.21 248.86 268.72 246.68 270.24 244.61 271.75 242.65 273.27 240.80 274.78 239.09 276.30 237.50 277.82 236.04 279.33 234.72 280.85 233.54 282.36 232.46 283.88 231.46 285.39 230.55 286.91 229.69 288.43 228.89 289.94 228.12 291.46 227.38 292.97 226.68 294.49 226.01 296.00 225.37 297.52 224.78 299.04 224.23 300.55 223.71 302.07 223.21 303.58 222.72 305.10 222.23 306.62 221.75 308.13 221.28 309.65 220.82 311.16 220.37 312.68 219.93 314.19 219.49 315.71 219.07 317.23 218.65 318.74 218.25 320.26 217.85 321.77 217.46 323.29 217.08 324.80 216.71 326.32 216.36 327.84 216.01 329.35 215.67 330.87 215.34 332.38 215.03 333.90 214.72 335.41 214.43 336.93 214.15 338.45 213.87 339.96 213.61 341.48 213.36 342.99 213.11 344.51 212.87 346.03 212.63 347.54 212.40 349.06 212.17 350.57 211.95 352.09 211.73 353.60 211.51 355.12 211.30 356.64 211.09 358.15 210.89 359.67 210.69 361.18 210.49 362.70 210.30 364.21 210.11 365.73 209.92 367.25 209.74 368.76 209.56 370.28 209.39 371.79 209.22 373.31 209.05 374.83 208.88 376.34 208.72 377.86 208.56 379.37 208.40 380.89 208.25 382.40 208.09 383.92 207.94 385.44 207.80 386.95 207.65 388.47 207.51 389.98 207.37 391.50 207.23 393.01 207.10 394.53 206.96 396.05 206.83 397.56 206.70 399.08 206.57 400.59 206.44 402.11 206.32 403.62 206.19 405.14 206.07 406.66 205.95 408.17 205.83 409.69 205.71 411.20 205.60 412.72 205.49 414.24 205.38 415.75 205.27 417.27 205.17 418.78 205.06 420.30 204.96 421.81 204.86 423.33 204.77 424.85 204.67 426.36 204.58 427.88 204.49 429.39 204.41 430.91 204.33 432.42 204.25 433.94 204.17 435.46 204.10" stroke="#3aa53a" stroke-width="0.75" fill="none" stroke-dasharray="6.3 2.4"/>
<path d="M247.50 316.50 247.56 316.15 247.67 315.45 247.83 314.40 248.19 312.16 248.88 308.02 249.02 307.24 250.53 299.65 252.05 293.45 253.56 288.03 255.08 283.29 256.59 279.10 258.11 275.29 259.63 271.79 261.14 268.58 262.66 265.61 264.17 262.83 265.69 260.18 267.21 257.64 268.72 255.27 270.24 253.14 271.75 251.28 273.27 249.71 274.78 248.26 276.30 246.89 277.82 245.62 279.33 244.41 280.85 243.29 282.36 242.22 283.88 241.22 285.39 240.26 286.91 239.35 288.43 238.48 289.94 237.64 291.46 236.84 292.97 236.07 294.49 235.35 296.00 234.68 297.52 234.05 299.04 233.49 300.55 232.97 302.07 232.48 303.58 231.99 305.10 231.52 306.62 231.06 308.13 230.60 309.65 230.16 311.16 229.73 312.68 229.31 314.19 228.90 315.71 228.50 317.23 228.11 318.74 227.74 320.26 227.37 321.77 227.01 323.29 226.66 324.80 226.33 326.32 226.00 327.84 225.69 329.35 225.38 330.87 225.08 332.38 224.80 333.90 224.52 335.41 224.26 336.93 224.00 338.45 223.76 339.96 223.52 341.48 223.30 342.99 223.08 344.51 222.86 346.03 222.65 347.54 222.45 349.06 222.25 350.57 222.06 352.09 221.87 353.60 221.69 355.12 221.51 356.64 221.33 358.15 221.16 359.67 220.99 361.18 220.83 362.70 220.67 364.21 220.51 365.73 220.35 367.25 220.20 368.76 220.05 370.28 219.90 371.79 219.76 373.31 219.61 374.83 219.47 376.34 219.33 377.86 219.19 379.37 219.05 380.89 218.91 382.40 218.77 383.92 218.64 385.44 218.50 386.95 218.36 388.47 218.22 389.98 218.08 391.50 217.95 393.01 217.81 394.53 217.66 396.05 217.52 397.56 217.38 399.08 217.24 400.59 217.09 402.11 216.96 403.62 216.82 405.14 216.68 406.66 216.54 408.17 216.41 409.69 216.27 411.20 216.14 412.72 216.00 414.24 215.87 415.75 215.74 417.27 215.61 418.78 215.48 420.30 215.36 421.81 215.23 423.33 215.10 424.85 214.98 426.36 214.86 427.88 214.73 429.39 214.61 430.91 214.49 432.42 214.37 433.94 214.25 435.46 214.14" stroke="#3aa53a" stroke-width="0.75" fill="none"/>
<path d="M247.50 316.50 247.56 316.27 247.67 315.81 247.83 315.12 248.19 313.66 248.88 310.93 249.02 310.41 250.53 305.23 252.05 300.93 253.56 297.10 255.08 293.44 256.59 289.69 258.11 285.91 259.63 282.24 261.14 278.84 262.66 275.79 264.17 272.84 265.69 269.98 267.21 267.25 268.72 264.67 270.24 262.30 271.75 260.17 273.27 258.31 274.78 256.71 276.30 255.21 277.82 253.80 279.33 252.47 280.85 251.23 282.36 250.07 283.88 249.00 285.39 248.00 286.91 247.08 288.43 246.23 289.94 245.46 291.46 244.76 292.97 244.12 294.49 243.54 296.00 243.00 297.52 242.50 299.04 242.04 300.55 241.61 302.07 241.19 303.58 240.78 305.10 240.38 306.62 239.99 308.13 239.61 309.65 239.23 311.16 238.87 312.68 238.52 314.19 238.17 315.71 237.83 317.23 237.50 318.74 237.18 320.26 236.87 321.77 236.56 323.29 236.26 324.80 235.96 326.32 235.68 327.84 235.39 329.35 235.12 330.87 234.84 332.38 234.58 333.90 234.31 335.41 234.06 336.93 233.80 338.45 233.55 339.96 233.30 341.48 233.06 342.99 232.82 344.51 232.58 346.03 232.35 347.54 232.11 349.06 231.88 350.57 231.66 352.09 231.43 353.60 231.21 355.12 230.99 356.64 230.77 358.15 230.56 359.67 230.35 361.18 230.14 362.70 229.94 364.21 229.73 365.73 229.53 367.25 229.34 368.76 229.14 370.28 228.95 371.79 228.76 373.31 228.58 374.83 228.39 376.34 228.21 377.86 228.04 379.37 227.86 380.89 227.69 382.40 227.52 383.92 227.36 385.44 227.19 386.95 227.03 388.47 226.87 389.98 226.72 391.50 226.57 393.01 226.42 394.53 226.27 396.05 226.13 397.56 225.99 399.08 225.85 400.59 225.71 402.11 225.57 403.62 225.44 405.14 225.31 406.66 225.17 408.17 225.05 409.69 224.92 411.20 224.80 412.72 224.67 414.24 224.55 415.75 224.44 417.27 224.32 418.78 224.21 420.30 224.10 421.81 223.99 423.33 223.88 424.85 223.78 426.36 223.68 427.88 223.58 429.39 223.49 430.91 223.39 432.42 223.30 433.94 223.22 435.46 223.13" stroke="#3aa53a" stroke-width="0.75" fill="none" stroke-dasharray="6.3 2.4"/>
<path d="M247.50 316.11 247.56 316.09 247.67 316.06 247.83 316.01 248.19 315.91 248.88 315.70 249.02 315.66 250.53 315.22 252.05 314.79 253.56 314.35 255.08 313.92 256.59 313.50 258.11 313.08 259.63 312.66 261.14 312.25 262.66 311.84 264.17 311.43 265.69 311.03 267.21 310.63 268.72 310.24 270.24 309.85 271.75 309.46 273.27 309.07 274.78 308.69 276.30 308.32 277.82 307.94 279.33 307.57 280.85 307.21 282.36 306.85 283.88 306.49 285.39 306.13 286.91 305.78 288.43 305.43 289.94 305.09 291.46 304.74 292.97 304.40 294.49 304.07 296.00 303.74 297.52 303.41 299.04 303.09 300.55 302.77 302.07 302.47 303.58 302.16 305.10 301.86 306.62 301.57 308.13 301.28 309.65 300.99 311.16 300.70 312.68 300.41 314.19 300.13 315.71 299.85 317.23 299.56 318.74 299.28 320.26 298.99 321.77 298.71 323.29 298.42 324.80 298.13 326.32 297.84 327.84 297.55 329.35 297.26 330.87 296.97 332.38 296.68 333.90 296.39 335.41 296.10 336.93 295.81 338.45 295.53 339.96 295.24 341.48 294.95 342.99 294.67 344.51 294.38 346.03 294.10 347.54 293.82 349.06 293.55 350.57 293.27 352.09 293.00 353.60 292.73 355.12 292.46 356.64 292.20 358.15 291.94 359.67 291.68 361.18 291.43 362.70 291.18 364.21 290.93 365.73 290.69 367.25 290.45 368.76 290.22 370.28 289.99 371.79 289.77 373.31 289.55 374.83 289.34 376.34 289.13 377.86 288.92 379.37 288.72 380.89 288.52 382.40 288.32 383.92 288.12 385.44 287.93 386.95 287.74 388.47 287.55 389.98 287.36 391.50 287.18 393.01 287.00 394.53 286.81 396.05 286.63 397.56 286.45 399.08 286.27 400.59 286.09 402.11 285.91 403.62 285.74 405.14 285.56 406.66 285.39 408.17 285.21 409.69 285.04 411.20 284.87 412.72 284.70 414.24 284.53 415.75 284.37 417.27 284.20 418.78 284.04 420.30 283.87 421.81 283.71 423.33 283.55 424.85 283.40 426.36 283.24 427.88 283.08 429.39 282.93 430.91 282.78 432.42 282.63 433.94 282.48 435.46 282.34" stroke="#ff3838" stroke-width="0.75" fill="none"/>
<path d="M247.50 306.20 247.56 306.18 247.67 306.15 247.83 306.10 248.19 306.00 248.88 305.79 249.02 305.75 250.53 305.31 252.05 304.88 253.56 304.44 255.08 304.01 256.59 303.59 258.11 303.17 259.63 302.75 261.14 302.34 262.66 301.93 264.17 301.52 265.69 301.12 267.21 300.72 268.72 300.33 270.24 299.93 271.75 299.55 273.27 299.16 274.78 298.78 276.30 298.41 277.82 298.03 279.33 297.66 280.85 297.30 282.36 296.94 283.88 296.58 285.39 296.22 286.91 295.87 288.43 295.52 289.94 295.17 291.46 294.83 292.97 294.49 294.49 294.16 296.00 293.83 297.52 293.50 299.04 293.18 300.55 292.86 302.07 292.55 303.58 292.25 305.10 291.95 306.62 291.66 308.13 291.36 309.65 291.08 311.16 290.79 312.68 290.50 314.19 290.22 315.71 289.94 317.23 289.65 318.74 289.37 320.26 289.08 321.77 288.80 323.29 288.51 324.80 288.22 326.32 287.93 327.84 287.64 329.35 287.35 330.87 287.06 332.38 286.77 333.90 286.48 335.41 286.19 336.93 285.90 338.45 285.62 339.96 285.33 341.48 285.04 342.99 284.76 344.51 284.47 346.03 284.19 347.54 283.91 349.06 283.64 350.57 283.36 352.09 283.09 353.60 282.82 355.12 282.55 356.64 282.29 358.15 282.03 359.67 281.77 361.18 281.52 362.70 281.27 364.21 281.02 365.73 280.78 367.25 280.54 368.76 280.31 370.28 280.08 371.79 279.86 373.31 279.64 374.83 279.43 376.34 279.22 377.86 279.01 379.37 278.81 380.89 278.60 382.40 278.41 383.92 278.21 385.44 278.02 386.95 277.83 388.47 277.64 389.98 277.45 391.50 277.27 393.01 277.09 394.53 276.90 396.05 276.72 397.56 276.54 399.08 276.36 400.59 276.18 402.11 276.00 403.62 275.83 405.14 275.65 406.66 275.48 408.17 275.30 409.69 275.13 411.20 274.96 412.72 274.79 414.24 274.62 415.75 274.46 417.27 274.29 418.78 274.13 420.30 273.96 421.81 273.80 423.33 273.64 424.85 273.49 426.36 273.33 427.88 273.17 429.39 273.02 430.91 272.87 432.42 272.72 433.94 272.57 435.46 272.42" stroke="#ff3838" stroke-width="0.75" fill="none" stroke-dasharray="6.3 2.4"/>
<path d="M285.39 316.30 286.91 315.95 288.43 315.60 289.94 315.26 291.46 314.91 292.97 314.58 294.49 314.24 296.00 313.91 297.52 313.58 299.04 313.26 300.55 312.95 302.07 312.64 303.58 312.33 305.10 312.03 306.62 311.74 308.13 311.45 309.65 311.16 311.16 310.87 312.68 310.59 314.19 310.30 315.71 310.02 317.23 309.73 318.74 309.45 320.26 309.17 321.77 308.88 323.29 308.59 324.80 308.30 326.32 308.01 327.84 307.72 329.35 307.43 330.87 307.14 332.38 306.85 333.90 306.56 335.41 306.27 336.93 305.99 338.45 305.70 339.96 305.41 341.48 305.12 342.99 304.84 344.51 304.56 346.03 304.27 347.54 304.00 349.06 303.72 350.57 303.44 352.09 303.17 353.60 302.90 355.12 302.63 356.64 302.37 358.15 302.11 359.67 301.85 361.18 301.60 362.70 301.35 364.21 301.10 365.73 300.86 367.25 300.63 368.76 300.39 370.28 300.17 371.79 299.94 373.31 299.72 374.83 299.51 376.34 299.30 377.86 299.09 379.37 298.89 380.89 298.69 382.40 298.49 383.92 298.29 385.44 298.10 386.95 297.91 388.47 297.72 389.98 297.54 391.50 297.35 393.01 297.17 394.53 296.98 396.05 296.80 397.56 296.62 399.08 296.44 400.59 296.26 402.11 296.09 403.62 295.91 405.14 295.73 406.66 295.56 408.17 295.39 409.69 295.21 411.20 295.04 412.72 294.87 414.24 294.70 415.75 294.54 417.27 294.37 418.78 294.21 420.30 294.05 421.81 293.88 423.33 293.73 424.85 293.57 426.36 293.41 427.88 293.26 429.39 293.10 430.91 292.95 432.42 292.80 433.94 292.65 435.46 292.51" stroke="#ff3838" stroke-width="0.75" fill="none" stroke-dasharray="6.3 2.4"/>
<path d="M272.5 210.96L274.15 213.84L270.85 213.84Z" fill="none" stroke="#f010f0" stroke-width="0.65"/>
<path d="M266.1 217.16L267.75 220.04L264.45 220.04Z" fill="none" stroke="#f010f0" stroke-width="0.65"/>
<path d="M259.7 222.86L261.35 225.74L258.05 225.74Z" fill="none" stroke="#f010f0" stroke-width="0.65"/>
<path d="M253.4 234.46L255.05 237.34L251.75 237.34Z" fill="none" stroke="#f010f0" stroke-width="0.65"/>
<path d="M251.2 241.86L252.85 244.74L249.55 244.74Z" fill="none" stroke="#f010f0" stroke-width="0.65"/>
<path d="M249.5 253.56L251.15 256.44L247.85 256.44Z" fill="none" stroke="#f010f0" stroke-width="0.65"/>
<path d="M248.5 268.56L250.15 271.44L246.85 271.44Z" fill="none" stroke="#f010f0" stroke-width="0.65"/>
<rect x="271" y="214.1" width="3" height="3" fill="none" stroke="#f010f0" stroke-width="0.65"/>
<rect x="271" y="217.1" width="3" height="3" fill="none" stroke="#f010f0" stroke-width="0.65"/>
<rect x="264.6" y="219.1" width="3" height="3" fill="none" stroke="#f010f0" stroke-width="0.65"/>
<rect x="258.2" y="225" width="3" height="3" fill="none" stroke="#f010f0" stroke-width="0.65"/>
<rect x="251.9" y="236.8" width="3" height="3" fill="none" stroke="#f010f0" stroke-width="0.65"/>
<path d="M273.2 244.06L274.85 246.94L271.55 246.94Z" fill="none" stroke="#1e8c1e" stroke-width="0.65"/>
<path d="M266.5 250.36L268.15 253.24L264.85 253.24Z" fill="none" stroke="#1e8c1e" stroke-width="0.65"/>
<path d="M260.5 259.26L262.15 262.14L258.85 262.14Z" fill="none" stroke="#1e8c1e" stroke-width="0.65"/>
<path d="M254.9 276.06L256.55 278.94L253.25 278.94Z" fill="none" stroke="#1e8c1e" stroke-width="0.65"/>
<path d="M250.9 290.56L252.55 293.44L249.25 293.44Z" fill="none" stroke="#1e8c1e" stroke-width="0.65"/>
<rect x="271.7" y="246.8" width="3" height="3" fill="none" stroke="#1e8c1e" stroke-width="0.65"/>
<rect x="265" y="254.8" width="3" height="3" fill="none" stroke="#1e8c1e" stroke-width="0.65"/>
<rect x="259" y="262.5" width="3" height="3" fill="none" stroke="#1e8c1e" stroke-width="0.65"/>
<rect x="253.4" y="278.5" width="3" height="3" fill="none" stroke="#1e8c1e" stroke-width="0.65"/>
<rect x="249.4" y="293.5" width="3" height="3" fill="none" stroke="#1e8c1e" stroke-width="0.65"/>
<path d="M274.4 305.86L276.05 308.74L272.75 308.74Z" fill="none" stroke="#ff1010" stroke-width="0.65"/>
<rect x="272.9" y="307.5" width="3" height="3" fill="none" stroke="#ff1010" stroke-width="0.65"/>
<path d="M330.6 293.06L332.25 295.94L328.95 295.94Z" fill="none" stroke="#ff1010" stroke-width="0.65"/>
<rect x="329.1" y="295" width="3" height="3" fill="none" stroke="#ff1010" stroke-width="0.65"/>
<path d="M413.8 279.76L415.45 282.64L412.15 282.64Z" fill="none" stroke="#ff1010" stroke-width="0.65"/>
<path d="M413.8 283.56L415.45 286.44L412.15 286.44Z" fill="none" stroke="#ff1010" stroke-width="0.65"/>
<text x="255.7" y="207.3" fill="#f010f0" style="font-size:5.2px;font-weight:bold">56°C</text>
<text x="285.5" y="259.9" fill="#22a050" style="font-size:5.2px;font-weight:bold">45°C</text>
<text x="311.7" y="285.4" fill="#ff0a0a" style="font-size:5.2px;font-weight:bold">25°C</text>
<text x="465.5" y="181.8" class="pl" style="font-size:11.6px">f</text>
<path d="M472.5 199.5V317.5H662" stroke="#a6a6a6" stroke-width="1.15" fill="none"/>
<path d="M471 317.5h1.5M471 287.5h1.5M471 258.5h1.5M471 229.5h1.5M471 199.5h1.5M473.5 317.5v1.5M509.5 317.5v1.5M546.5 317.5v1.5M582.5 317.5v1.5M619.5 317.5v1.5M656.5 317.5v1.5M491.5 317.5v1M528.5 317.5v1M564.5 317.5v1M601.5 317.5v1M637.5 317.5v1" stroke="#a6a6a6" stroke-width="1" fill="none"/>
<text transform="translate(470.2,319.55) scale(0.96,1.1)" class="tk" text-anchor="end">0</text>
<text transform="translate(470.2,290.18) scale(0.96,1.1)" class="tk" text-anchor="end">5</text>
<text transform="translate(470.2,260.8) scale(0.96,1.1)" class="tk" text-anchor="end">10</text>
<text transform="translate(470.2,231.43) scale(0.96,1.1)" class="tk" text-anchor="end">15</text>
<text transform="translate(470.2,202.05) scale(0.96,1.1)" class="tk" text-anchor="end">20</text>
<text transform="translate(472.6,326.35) scale(0.96,1.1)" class="tk" text-anchor="middle">0</text>
<text transform="translate(509.2,326.35) scale(0.96,1.1)" class="tk" text-anchor="middle">10</text>
<text transform="translate(545.8,326.35) scale(0.96,1.1)" class="tk" text-anchor="middle">20</text>
<text transform="translate(582.4,326.35) scale(0.96,1.1)" class="tk" text-anchor="middle">30</text>
<text transform="translate(619,326.35) scale(0.96,1.1)" class="tk" text-anchor="middle">40</text>
<text transform="translate(655.6,326.35) scale(0.96,1.1)" class="tk" text-anchor="middle">50</text>
<text transform="translate(458.4,257.5) rotate(-90) scale(1,0.92)" class="lb" style="font-size:7.0px" text-anchor="middle">Free polysaccharide (%)</text>
<text x="545.7" y="333" class="lb" style="font-size:6.9px">Time (month)</text>
<path d="M472.60 309.75 472.61 309.75 472.62 309.75 472.64 309.74 472.69 309.73 472.78 309.71 474.11 309.42 475.63 309.08 477.14 308.75 478.66 308.42 480.17 308.09 481.68 307.75 483.20 307.42 484.71 307.09 486.22 306.75 487.74 306.42 489.25 306.09 490.77 305.76 492.28 305.42 493.79 305.09 495.31 304.76 496.82 304.42 498.33 304.09 499.85 303.76 501.36 303.42 502.88 303.09 504.39 302.76 505.90 302.43 507.42 302.09 508.93 301.76 510.44 301.43 511.96 301.09 513.47 300.76 514.99 300.43 516.50 300.10 518.01 299.76 519.53 299.43 521.04 299.10 522.55 298.76 524.07 298.43 525.58 298.10 527.10 297.77 528.61 297.43 530.12 297.10 531.64 296.77 533.15 296.43 534.66 296.10 536.18 295.77 537.69 295.44 539.21 295.10 540.72 294.77 542.23 294.44 543.75 294.10 545.26 293.77 546.78 293.44 548.29 293.11 549.80 292.77 551.32 292.44 552.83 292.11 554.34 291.77 555.86 291.44 557.37 291.11 558.89 290.77 560.40 290.44 561.91 290.11 563.43 289.78 564.94 289.44 566.45 289.11 567.97 288.78 569.48 288.44 571.00 288.11 572.51 287.78 574.02 287.45 575.54 287.11 577.05 286.78 578.56 286.45 580.08 286.11 581.59 285.78 583.11 285.45 584.62 285.12 586.13 284.78 587.65 284.45 589.16 284.12 590.67 283.78 592.19 283.45 593.70 283.12 595.22 282.79 596.73 282.45 598.24 282.12 599.76 281.79 601.27 281.45 602.78 281.12 604.30 280.79 605.81 280.46 607.33 280.12 608.84 279.79 610.35 279.46 611.87 279.12 613.38 278.79 614.89 278.46 616.41 278.12 617.92 277.79 619.44 277.46 620.95 277.13 622.46 276.79 623.98 276.46 625.49 276.13 627.01 275.79 628.52 275.46 630.03 275.13 631.55 274.80 633.06 274.46 634.57 274.13 636.09 273.80 637.60 273.46 639.12 273.13 640.63 272.80 642.14 272.47 643.66 272.13 645.17 271.80 646.68 271.47 648.20 271.13 649.71 270.80 651.23 270.47 652.74 270.14 654.25 269.80 655.77 269.47 657.28 269.14 658.79 268.80 660.31 268.47 661.82 268.14" stroke="#4646ff" stroke-width="0.75" fill="none"/>
<path d="M472.60 273.91 472.61 273.91 472.62 273.91 472.64 273.90 472.69 273.89 472.78 273.87 474.11 273.58 475.63 273.24 477.14 272.91 478.66 272.57 480.17 272.24 481.68 271.90 483.20 271.57 484.71 271.23 486.22 270.89 487.74 270.56 489.25 270.22 490.77 269.89 492.28 269.55 493.79 269.22 495.31 268.88 496.82 268.55 498.33 268.21 499.85 267.88 501.36 267.54 502.88 267.21 504.39 266.87 505.90 266.54 507.42 266.20 508.93 265.86 510.44 265.53 511.96 265.19 513.47 264.86 514.99 264.52 516.50 264.19 518.01 263.85 519.53 263.52 521.04 263.18 522.55 262.85 524.07 262.51 525.58 262.18 527.10 261.84 528.61 261.51 530.12 261.17 531.64 260.83 533.15 260.50 534.66 260.16 536.18 259.83 537.69 259.49 539.21 259.16 540.72 258.82 542.23 258.49 543.75 258.15 545.26 257.82 546.78 257.48 548.29 257.15 549.80 256.81 551.32 256.48 552.83 256.14 554.34 255.80 555.86 255.47 557.37 255.13 558.89 254.80 560.40 254.46 561.91 254.13 563.43 253.79 564.94 253.46 566.45 253.12 567.97 252.79 569.48 252.45 571.00 252.12 572.51 251.78 574.02 251.45 575.54 251.11 577.05 250.77 578.56 250.44 580.08 250.10 581.59 249.77 583.11 249.43 584.62 249.10 586.13 248.76 587.65 248.43 589.16 248.09 590.67 247.76 592.19 247.42 593.70 247.09 595.22 246.75 596.73 246.42 598.24 246.08 599.76 245.75 601.27 245.41 602.78 245.07 604.30 244.74 605.81 244.40 607.33 244.07 608.84 243.73 610.35 243.40 611.87 243.06 613.38 242.73 614.89 242.39 616.41 242.06 617.92 241.72 619.44 241.39 620.95 241.05 622.46 240.72 623.98 240.38 625.49 240.04 627.01 239.71 628.52 239.37 630.03 239.04 631.55 238.70 633.06 238.37 634.57 238.03 636.09 237.70 637.60 237.36 639.12 237.03 640.63 236.69 642.14 236.36 643.66 236.02 645.17 235.69 646.68 235.35 648.20 235.01 649.71 234.68 651.23 234.34 652.74 234.01 654.25 233.67 655.77 233.34 657.28 233.00 658.79 232.67 660.31 232.33 661.82 232.00" stroke="#4646ff" stroke-width="0.75" fill="none" stroke-dasharray="6.3 2.4"/>
<path d="M608.84 316.57 610.35 316.23 611.87 315.90 613.38 315.57 614.89 315.24 616.41 314.90 617.92 314.57 619.44 314.24 620.95 313.90 622.46 313.57 623.98 313.24 625.49 312.90 627.01 312.57 628.52 312.24 630.03 311.91 631.55 311.57 633.06 311.24 634.57 310.91 636.09 310.57 637.60 310.24 639.12 309.91 640.63 309.58 642.14 309.24 643.66 308.91 645.17 308.58 646.68 308.24 648.20 307.91 649.71 307.58 651.23 307.25 652.74 306.91 654.25 306.58 655.77 306.25 657.28 305.91 658.79 305.58 660.31 305.25 661.82 304.92" stroke="#4646ff" stroke-width="0.75" fill="none" stroke-dasharray="6.3 2.4"/>
<path d="M538.3 285.3L539.8 287.91L536.8 287.91Z" fill="none" stroke="#0000ff" stroke-width="0.65"/>
<rect x="536.9" y="286.9" width="2.8" height="2.8" fill="none" stroke="#0000ff" stroke-width="0.65"/>
<path d="M538.3 294.84L539.95 291.96L536.65 291.96Z" fill="none" stroke="#f49a6a" stroke-width="0.65"/>
<path d="M560.1 280.36L561.75 283.24L558.45 283.24Z" fill="none" stroke="#0000ff" stroke-width="0.65"/>
<rect x="558.6" y="285.7" width="3" height="3" fill="none" stroke="#0000ff" stroke-width="0.9"/>
<rect x="558.6" y="291.9" width="3" height="3" fill="none" stroke="#f49a6a" stroke-width="0.65"/>
<path d="M582.4 280.36L584.05 283.24L580.75 283.24Z" fill="none" stroke="#f49a6a" stroke-width="0.65"/>
<rect x="580.9" y="285.7" width="3" height="3" fill="none" stroke="#f49a6a" stroke-width="0.65"/>
<path d="M604.2 268.56L605.85 271.44L602.55 271.44Z" fill="none" stroke="#f49a6a" stroke-width="0.65"/>
<path d="M604.2 277.04L605.85 274.16L602.55 274.16Z" fill="none" stroke="#f49a6a" stroke-width="0.65"/>
<rect x="602.7" y="280.3" width="3" height="3" fill="none" stroke="#0000ff" stroke-width="0.9"/>
<rect x="602.7" y="286.1" width="3" height="3" fill="none" stroke="#f49a6a" stroke-width="0.65"/>
<rect x="624.7" y="268.5" width="3" height="3" fill="none" stroke="#f49a6a" stroke-width="0.65"/>
<rect x="624.7" y="274.1" width="3" height="3" fill="none" stroke="#f49a6a" stroke-width="0.65"/>
<path d="M648.1 271.04L649.75 268.16L646.45 268.16Z" fill="none" stroke="#0000ff" stroke-width="0.65"/>
<rect x="646.6" y="274.5" width="3" height="3" fill="none" stroke="#0000ff" stroke-width="0.65"/>
<text x="649.9" y="222.8" fill="#2020e0" style="font-size:5.1px;font-weight:bold">5°C</text>
</svg>
</body></html>
